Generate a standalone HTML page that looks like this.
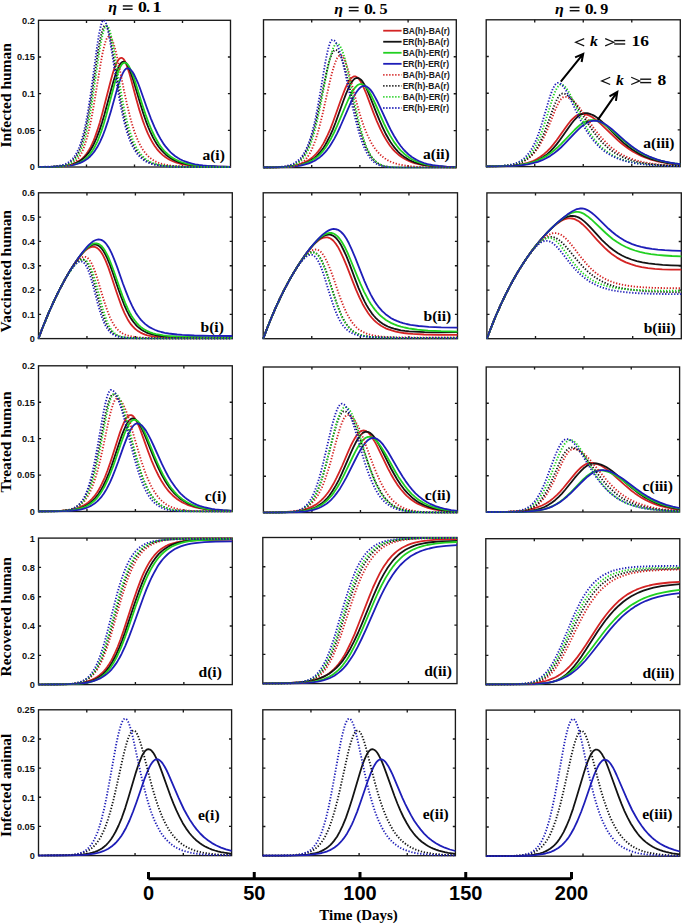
<!DOCTYPE html><html><head><meta charset="utf-8"><style>html,body{margin:0;padding:0;background:#fff;width:685px;height:924px;overflow:hidden}svg{display:block}</style></head><body><svg width="685" height="924" viewBox="0 0 685 924"><defs><clipPath id="c11"><rect x="37.50" y="19.80" width="194.00" height="148.20"/></clipPath><clipPath id="c12"><rect x="262.50" y="19.30" width="194.80" height="149.30"/></clipPath><clipPath id="c13"><rect x="485.20" y="19.30" width="196.10" height="148.30"/></clipPath><clipPath id="c21"><rect x="37.50" y="192.30" width="195.80" height="147.30"/></clipPath><clipPath id="c22"><rect x="262.20" y="192.30" width="196.30" height="147.40"/></clipPath><clipPath id="c23"><rect x="485.90" y="192.40" width="196.40" height="147.30"/></clipPath><clipPath id="c31"><rect x="37.50" y="365.30" width="195.80" height="147.20"/></clipPath><clipPath id="c32"><rect x="262.40" y="366.50" width="196.10" height="147.10"/></clipPath><clipPath id="c33"><rect x="485.20" y="366.50" width="195.40" height="146.50"/></clipPath><clipPath id="c41"><rect x="37.50" y="537.60" width="195.80" height="148.00"/></clipPath><clipPath id="c42"><rect x="261.80" y="537.00" width="196.20" height="147.60"/></clipPath><clipPath id="c43"><rect x="484.80" y="538.20" width="196.00" height="147.30"/></clipPath><clipPath id="c51"><rect x="37.50" y="709.30" width="195.10" height="147.30"/></clipPath><clipPath id="c52"><rect x="261.80" y="709.30" width="194.60" height="147.40"/></clipPath><clipPath id="c53"><rect x="485.20" y="709.60" width="195.60" height="147.60"/></clipPath></defs><rect x="38.50" y="20.30" width="192.00" height="146.70" fill="none" stroke="#1a1a1a" stroke-width="1.35"/><path d="M86.50,167.00v-2.60M86.50,20.30v2.60M134.50,167.00v-2.60M134.50,20.30v2.60M182.50,167.00v-2.60M182.50,20.30v2.60M38.50,130.32h2.60M230.50,130.32h-2.60M38.50,93.65h2.60M230.50,93.65h-2.60M38.50,56.98h2.60M230.50,56.98h-2.60" stroke="#1a1a1a" stroke-width="1.35" fill="none"/><g clip-path="url(#c11)"><path d="M38.5,167.0L51,166.8L59.1,166.4L65.4,165.8L68.3,165.3L70.7,164.7L73.1,164.0L75.2,163.1L77.4,162.0L79.3,160.8L81.2,159.4L82.9,157.9L84.6,156.1L86.3,154.0L87.7,152.0L89.1,149.7L90.6,147.1L92,144.2L93.5,140.9L94.9,137.4L97.5,129.9L99.9,122.2L102.3,113.5L109.1,87.0L111.2,78.9L113.1,72.3L114.8,67.3L116.5,63.2L117.5,61.3L118.2,60.2L119.1,59.0L119.9,58.4L120.6,58.0L121.3,57.8L122,57.9L122.7,58.4L123.5,59.0L124.2,60.0L124.9,61.2L125.9,63.2L127.5,67.6L129,72.1L130.4,77.1L136.4,99.5L139.5,110.4L142.9,120.9L144.6,125.5L146.3,129.8L147.9,133.7L149.6,137.2L151.3,140.4L153,143.3L154.7,145.9L156.6,148.6L158.5,150.9L160.4,152.9L162.8,155.1L165.2,157.0L167.9,158.7L170.5,160.2L173.4,161.5L176.5,162.6L179.6,163.5L183.2,164.3L186.8,164.9L190.9,165.5L195.5,165.9L200.5,166.3L212.7,166.7L230.5,166.9" fill="none" stroke="#d42424" stroke-width="1.80" stroke-linejoin="round"/><path d="M38.5,166.9L51,166.8L59.4,166.4L63,166.0L66.1,165.6L68.7,165.2L71.4,164.6L73.8,163.8L76.2,162.9L78.3,161.9L80.5,160.6L82.4,159.2L84.3,157.6L86,155.9L87.7,153.9L89.4,151.7L90.8,149.5L92.3,147.0L93.7,144.3L95.1,141.3L96.6,138.0L99.5,130.4L101.9,123.1L104.3,115.0L111.5,88.3L113.4,81.5L115.3,75.2L117,70.5L118.7,66.7L119.6,64.9L120.3,63.9L121.3,62.8L122,62.2L122.7,61.8L123.5,61.7L124.2,61.8L124.9,62.1L125.6,62.7L126.6,63.8L127.3,64.9L128.3,66.6L130.2,71.1L131.6,75.1L133.3,80.2L140.3,103.8L143.4,113.7L146.7,123.2L148.4,127.5L150.1,131.4L153.2,137.9L154.9,140.9L156.6,143.7L158.3,146.2L160.2,148.7L161.9,150.7L163.8,152.7L165.9,154.7L168.3,156.6L171,158.4L173.6,159.9L176.5,161.2L179.4,162.3L182.5,163.2L186.1,164.1L189.7,164.8L193.8,165.3L198.1,165.8L202.9,166.2L214.4,166.6L230.5,166.9" fill="none" stroke="#141414" stroke-width="1.80" stroke-linejoin="round"/><path d="M38.5,167.0L51.7,166.8L60.6,166.5L64.2,166.2L67.5,165.8L70.4,165.4L73.1,164.8L75.7,164.1L78.1,163.2L80.3,162.3L82.4,161.0L84.3,159.7L86.3,158.2L87.9,156.5L89.6,154.6L91.3,152.4L92.7,150.3L94.2,147.8L95.6,145.1L97.1,142.1L98.5,138.8L101.4,131.1L103.8,123.7L106.2,115.4L115.1,81.8L116.7,76.2L118.4,71.3L120.1,67.4L121.5,64.9L122.5,63.7L123.2,63.1L123.9,62.8L124.7,62.7L125.4,62.8L126.3,63.2L127.1,63.8L128,64.9L129,66.3L129.9,68.1L131.9,72.3L133.5,76.8L135.2,81.8L142.4,104.9L145.5,114.4L148.9,123.5L150.6,127.7L152.3,131.5L155.4,137.8L157.1,140.8L158.7,143.5L160.4,146.0L162.3,148.5L164,150.5L165.9,152.5L168.1,154.5L170.5,156.4L172.9,158.0L175.5,159.5L178.4,160.9L181.3,162.0L184.4,163.0L187.8,163.9L191.4,164.6L195.2,165.2L199.5,165.7L204.1,166.1L215.1,166.6L230.5,166.9" fill="none" stroke="#22d022" stroke-width="1.80" stroke-linejoin="round"/><path d="M38.5,166.9L51.9,166.8L61.1,166.4L68.3,165.7L71.4,165.3L74.3,164.7L76.9,164.0L79.5,163.1L81.9,162.1L84.1,161.0L86.3,159.6L88.2,158.2L90.1,156.5L91.8,154.7L93.2,153.0L94.7,151.1L97.3,147.1L99.9,142.1L102.6,136.2L105.2,129.3L108.1,120.6L111,111.0L117.2,88.8L118.9,83.3L120.6,78.4L122.5,73.8L123.5,71.9L124.2,70.8L125.1,69.6L125.9,68.9L126.8,68.4L127.5,68.3L128.5,68.4L129.5,68.8L130.4,69.5L131.6,70.8L132.6,72.0L133.8,74.0L135.9,78.3L137.9,82.8L139.8,87.8L147.2,108.7L150.8,118.3L154.4,126.9L157.8,134.0L160.9,139.6L164,144.4L165.7,146.7L167.4,148.7L169.1,150.6L170.7,152.3L172.9,154.3L175.3,156.2L177.7,157.8L180.1,159.2L182.7,160.5L185.6,161.6L188.7,162.7L191.9,163.5L195.2,164.3L198.8,164.9L202.9,165.4L207.2,165.8L217.3,166.4L230.5,166.8" fill="none" stroke="#1e1eb8" stroke-width="1.80" stroke-linejoin="round"/><path d="M38.5,167.0L51.7,166.9L58.9,166.7L61.8,166.5L64.4,166.2L66.6,165.8L68.5,165.3L70.4,164.7L72.3,163.8L74,162.7L75.5,161.6L76.9,160.1L78.3,158.4L79.8,156.3L81,154.2L82.2,151.8L83.4,149.0L85.5,142.9L87.7,135.3L89.9,126.0L91.8,116.5L93.7,105.8L100.9,62.2L102.3,54.5L103.8,47.9L105.2,42.5L106.4,39.3L107.1,37.9L107.9,37.0L108.6,36.5L109.1,36.4L109.8,36.6L110.5,37.2L111.2,38.1L111.9,39.4L112.7,41.0L113.6,43.7L115.3,49.5L116.7,55.4L118.2,61.9L124.2,91.4L127.1,104.7L130.2,117.4L131.6,122.6L133.3,128.1L134.7,132.4L136.4,136.8L138.1,140.8L139.8,144.3L141.5,147.4L143.1,150.1L145.1,152.7L147,155.0L149.1,157.1L151.3,158.9L153.7,160.5L156.3,161.9L159,163.0L162.1,164.0L165.5,164.8L169.3,165.5L172.9,165.9L177.2,166.3L187.8,166.7L202.7,166.9L230.5,167.0" fill="none" stroke="#d42424" stroke-width="1.85" stroke-dasharray="1.3 1.7"/><path d="M38.5,167.0L50,166.9L57,166.5L59.9,166.2L62.3,165.8L64.4,165.3L66.3,164.7L68.3,163.9L70.2,162.7L71.9,161.5L73.3,160.1L74.7,158.4L76.2,156.4L77.4,154.4L78.6,152.0L79.8,149.3L81,146.2L83.1,139.3L85.3,130.8L87.5,120.4L89.1,111.1L91.1,99.1L98,51.6L99.5,43.0L100.7,36.9L101.9,31.9L103.1,28.1L103.8,26.6L104.3,25.9L105,25.3L105.5,25.2L105.9,25.4L106.7,26.1L107.1,26.9L107.9,28.7L109.1,32.7L110.3,37.9L112.4,49.7L117.7,82.6L120.3,97.9L121.8,105.5L123.2,112.4L124.7,118.8L126.1,124.5L127.5,129.6L129.2,134.9L130.9,139.5L132.6,143.4L134.3,146.9L136.2,150.2L138.1,153.1L140,155.4L142.2,157.6L144.3,159.4L146.7,161.0L149.4,162.4L152,163.4L155.1,164.4L158.5,165.1L162.3,165.7L166.2,166.1L170.5,166.4L181.5,166.8L197.4,167.0L230.5,167.0" fill="none" stroke="#141414" stroke-width="1.85" stroke-dasharray="1.3 1.7"/><path d="M38.5,167.0L50.7,166.9L57.9,166.6L60.8,166.3L63.2,165.9L65.4,165.5L67.5,164.8L69.5,164.0L71.4,163.0L73.1,161.8L74.5,160.5L75.9,158.9L77.4,156.9L78.8,154.5L80,152.2L81.2,149.5L82.2,147.0L84.1,141.2L86,134.0L87.7,126.5L89.6,116.6L91.8,103.8L93.7,91.0L98.5,57.5L99.9,48.3L101.1,41.4L102.6,34.6L103.3,31.8L104,29.5L104.7,27.7L105.5,26.5L106.2,25.8L106.7,25.7L107.1,25.8L107.9,26.5L108.3,27.2L109.1,28.8L110.3,32.4L111.7,38.4L112.9,44.4L114.1,51.1L119.4,83.2L122,98.2L124.9,112.4L126.3,118.6L127.8,124.3L129.2,129.3L130.9,134.6L132.6,139.2L134.3,143.2L135.9,146.6L137.9,150.0L139.8,152.8L141.7,155.2L143.9,157.4L146,159.2L148.4,160.9L150.8,162.2L153.5,163.3L156.6,164.3L159.9,165.0L163.8,165.7L167.4,166.1L171.7,166.4L182.7,166.8L198.3,167.0L230.5,167.0" fill="none" stroke="#22d022" stroke-width="1.85" stroke-dasharray="1.3 1.7"/><path d="M38.5,166.9L49.1,166.7L52.9,166.5L56,166.2L58.9,165.8L61.3,165.3L63.5,164.7L65.6,163.9L67.5,163.0L69.5,161.7L71.1,160.3L72.8,158.6L74.3,156.8L75.7,154.6L77.1,152.0L78.3,149.5L79.5,146.6L80.5,143.9L82.4,137.7L84.3,130.1L86,122.2L87.9,111.7L90.1,98.0L92,84.3L96.6,50.0L98.7,35.8L100.2,28.4L101.4,23.9L102.1,22.0L102.6,21.1L103.3,20.4L103.8,20.3L104.3,20.4L105,21.2L105.5,22.1L106.2,23.8L107.4,27.9L108.6,33.2L109.8,39.5L111,46.6L116.3,80.6L118.9,96.4L120.3,104.2L121.8,111.4L124.4,122.8L125.9,128.2L127.5,133.7L129.2,138.6L130.9,142.7L132.6,146.3L134.5,149.8L136.4,152.8L138.3,155.2L140.5,157.5L142.7,159.4L145.1,161.0L147.5,162.3L150.1,163.4L153.2,164.4L156.6,165.1L160.4,165.8L164.3,166.2L168.6,166.5L179.6,166.8L195.7,167.0L230.5,167.0" fill="none" stroke="#1e1eb8" stroke-width="1.85" stroke-dasharray="1.3 1.7"/></g><text x="34.8" y="170.40" text-anchor="end" font-family="Liberation Sans, sans-serif" font-weight="bold" font-size="9.2" fill="#111">0</text><text x="34.8" y="133.72" text-anchor="end" font-family="Liberation Sans, sans-serif" font-weight="bold" font-size="9.2" fill="#111">0.05</text><text x="34.8" y="97.05" text-anchor="end" font-family="Liberation Sans, sans-serif" font-weight="bold" font-size="9.2" fill="#111">0.1</text><text x="34.8" y="60.38" text-anchor="end" font-family="Liberation Sans, sans-serif" font-weight="bold" font-size="9.2" fill="#111">0.15</text><text x="34.8" y="23.70" text-anchor="end" font-family="Liberation Sans, sans-serif" font-weight="bold" font-size="9.2" fill="#111">0.2</text><rect x="263.50" y="19.80" width="192.80" height="147.80" fill="none" stroke="#1a1a1a" stroke-width="1.35"/><path d="M311.70,167.60v-2.60M311.70,19.80v2.60M359.90,167.60v-2.60M359.90,19.80v2.60M408.10,167.60v-2.60M408.10,19.80v2.60M263.50,130.65h2.60M456.30,130.65h-2.60M263.50,93.70h2.60M456.30,93.70h-2.60M263.50,56.75h2.60M456.30,56.75h-2.60" stroke="#1a1a1a" stroke-width="1.35" fill="none"/><g clip-path="url(#c12)"><path d="M263.5,167.5L275.3,167.3L284,166.8L291,166.1L293.9,165.6L296.8,165.0L299.4,164.3L302.1,163.4L304.5,162.4L306.6,161.3L308.8,160.0L310.7,158.7L312.7,157.2L314.6,155.4L316.3,153.6L318,151.6L319.7,149.4L321.3,146.9L323,144.1L324.5,141.5L327.6,135.2L330.3,129.1L333.1,121.7L341.1,99.3L343.3,93.5L345.4,88.1L347.4,84.0L349.3,80.7L350.3,79.3L351.2,78.2L352.2,77.4L353.2,76.8L354.1,76.4L354.8,76.4L355.6,76.5L356.5,76.9L357.5,77.5L358.5,78.5L359.4,79.7L360.4,81.1L362.6,85.1L364.2,88.8L366.2,93.5L373.4,112.6L376.8,121.1L380.4,129.2L383.8,135.8L386.9,141.1L390,145.7L391.7,147.8L393.4,149.8L395.1,151.6L397,153.4L399.2,155.2L401.6,157.0L404,158.5L406.7,160.0L409.3,161.2L412.2,162.3L415.3,163.3L418.5,164.1L421.8,164.8L425.5,165.4L429.3,165.9L433.6,166.3L443.5,167.0L456.3,167.3" fill="none" stroke="#d42424" stroke-width="1.80" stroke-linejoin="round"/><path d="M263.5,167.5L276,167.3L285.2,166.9L292.4,166.2L295.6,165.8L298.4,165.2L301.1,164.6L303.7,163.8L306.2,162.8L308.6,161.7L310.7,160.5L312.9,159.1L314.8,157.6L316.8,155.9L318.4,154.2L320.1,152.2L321.8,150.1L323.5,147.7L325.2,145.0L326.9,142.0L330,135.8L332.7,129.8L335.6,122.5L343.5,100.5L345.9,94.1L347.9,89.5L349.8,85.4L351.7,82.1L352.7,80.8L353.6,79.7L354.6,78.8L355.6,78.3L356.5,78.0L357.2,77.9L358,78.0L358.9,78.3L359.9,78.9L360.9,79.7L362.6,81.7L364.5,84.7L366.4,88.4L368.3,92.7L370.7,98.5L376.5,113.1L379.4,120.2L382.6,127.3L385.4,133.2L388.8,139.3L390.5,142.0L392.4,144.8L394.4,147.4L396.3,149.7L398.2,151.8L400.1,153.6L402.3,155.4L404.5,157.1L406.9,158.6L409.3,160.0L412,161.2L414.6,162.3L417.5,163.2L420.6,164.1L423.8,164.8L427.4,165.4L431,165.9L435.1,166.3L444.5,167.0L456.3,167.3" fill="none" stroke="#141414" stroke-width="1.80" stroke-linejoin="round"/><path d="M263.5,167.5L276,167.3L285.2,166.9L292.7,166.3L295.8,165.8L298.7,165.3L301.6,164.7L304.2,163.9L306.6,163.0L309,162.0L311.2,160.9L313.4,159.6L315.6,158.1L317.5,156.6L319.4,154.8L321.1,153.1L322.8,151.1L324.5,149.0L326.2,146.6L327.8,144.1L331.2,138.2L334.1,132.5L337,126.2L345.7,105.5L348.1,100.0L350.3,95.4L352.4,91.5L354.6,88.2L355.8,86.8L356.8,85.8L357.7,85.1L358.7,84.5L359.7,84.2L360.6,84.1L361.6,84.2L362.6,84.5L363.5,85.0L364.5,85.7L365.4,86.6L366.4,87.6L368.6,90.7L370.5,94.0L372.7,98.3L375.1,103.5L381.1,117.2L384,123.6L387.1,130.0L390,135.4L393.4,140.9L395.1,143.4L397,146.0L398.7,148.1L400.6,150.3L402.6,152.2L404.5,154.0L406.7,155.8L408.8,157.3L411,158.7L413.4,160.0L415.8,161.1L418.5,162.2L421.1,163.1L424,163.9L427.1,164.6L430.3,165.2L437.3,166.1L445.7,166.8L456.3,167.2" fill="none" stroke="#22d022" stroke-width="1.80" stroke-linejoin="round"/><path d="M263.5,167.5L277,167.4L286.6,167.0L294.3,166.4L300.6,165.5L303.5,164.9L306.2,164.2L308.8,163.4L311.2,162.4L313.6,161.3L315.8,160.1L318,158.6L319.9,157.2L321.8,155.5L323.5,153.9L325.4,151.8L327.1,149.8L329.1,147.2L330.7,144.7L334.1,139.1L337,133.6L340.1,127.0L348.8,107.1L351.2,101.7L353.6,96.9L355.8,93.1L358,90.0L359.2,88.6L360.1,87.7L361.3,86.8L362.3,86.3L363.3,86.1L364.2,86.0L365.2,86.1L366.2,86.4L367.1,86.9L368.3,87.7L369.3,88.6L370.5,89.9L372.7,92.9L374.8,96.6L377,100.7L379.7,106.3L388.3,125.0L391.2,130.8L394.1,136.0L397.5,141.5L400.9,146.2L402.6,148.3L404.5,150.5L406.2,152.2L408.1,154.0L410,155.6L412.2,157.2L414.4,158.6L416.5,159.8L418.9,161.0L421.4,162.0L424,163.0L426.7,163.8L429.5,164.5L432.4,165.1L438.9,166.0L446.7,166.7L456.3,167.2" fill="none" stroke="#1e1eb8" stroke-width="1.80" stroke-linejoin="round"/><path d="M263.5,167.6L277,167.5L284.5,167.3L290.3,166.8L292.4,166.5L294.6,166.0L296.8,165.4L298.7,164.6L300.4,163.7L302.1,162.6L303.7,161.3L305.2,159.9L306.6,158.2L307.8,156.5L309.3,154.3L310.5,152.1L311.9,149.1L313.1,146.3L315.6,139.8L318,132.1L320.1,124.0L322.3,115.2L330.5,78.8L332.2,72.2L333.9,66.4L335.6,61.6L336.5,59.4L337.2,58.1L338.2,56.7L338.9,56.0L339.7,55.5L340.4,55.3L341.1,55.4L341.8,55.8L342.5,56.5L343.3,57.5L344,58.8L345,60.8L346.6,65.4L348.1,70.0L349.5,75.2L355.8,99.5L358.9,110.9L360.6,116.6L362.3,121.8L364,126.6L365.7,131.0L367.4,134.9L369.1,138.5L370.7,141.8L372.4,144.7L374.1,147.3L376,150.0L378,152.3L380.1,154.5L382.6,156.7L385,158.5L387.6,160.1L390.3,161.5L393.2,162.7L396.3,163.7L399.7,164.6L403.5,165.4L407.4,166.0L411.7,166.4L416.5,166.8L422.1,167.1L435.6,167.4L456.3,167.6" fill="none" stroke="#d42424" stroke-width="1.85" stroke-dasharray="1.3 1.7"/><path d="M263.5,167.6L274.6,167.4L281.6,167.1L284.5,166.8L286.9,166.5L289,166.0L291.2,165.4L293.4,164.6L295.3,163.7L297,162.7L298.7,161.4L300.4,159.8L301.8,158.2L303.3,156.2L304.5,154.4L305.9,151.8L307.1,149.4L308.3,146.6L309.5,143.6L311.9,136.5L314.1,128.9L316,121.3L318.2,111.7L326.2,73.7L327.8,66.6L329.5,60.4L331.2,55.5L331.9,53.8L332.7,52.4L333.4,51.3L334.1,50.6L334.8,50.1L335.6,50.0L336.5,50.2L337.5,50.9L338.5,51.9L339.4,53.4L340.4,55.3L341.6,58.1L342.5,60.8L343.8,64.5L345.7,71.3L347.6,79.0L354.4,108.2L357.2,120.0L360.1,130.6L361.6,135.4L363,139.7L364.2,143.0L365.7,146.6L366.9,149.3L368.3,152.1L369.8,154.6L371.2,156.8L372.7,158.7L374.4,160.5L376,162.0L377.7,163.2L379.4,164.2L381.3,165.1L383.5,165.8L385.7,166.4L388.1,166.8L391,167.1L396.5,167.4L404.2,167.6L456.3,167.6" fill="none" stroke="#141414" stroke-width="1.85" stroke-dasharray="1.3 1.7"/><path d="M263.5,167.6L275.3,167.5L282.8,167.1L285.7,166.9L288.3,166.5L290.5,166.1L292.7,165.5L294.8,164.7L296.8,163.7L298.4,162.7L300.1,161.4L301.8,159.8L303.3,158.1L304.7,156.1L305.9,154.2L307.4,151.6L308.6,149.1L309.8,146.3L311,143.1L313.4,135.7L315.8,126.8L317.7,118.7L319.9,108.5L325.9,77.4L327.8,67.9L329.5,60.4L331,54.8L332.7,49.5L333.4,47.7L334.1,46.2L334.8,45.0L335.6,44.2L336.3,43.7L337,43.6L337.7,43.7L338.7,44.4L339.7,45.5L340.6,47.1L341.6,49.1L342.5,51.5L343.5,54.4L344.7,58.4L346.4,64.9L348.3,73.2L355.1,105.1L358,118.1L360.9,129.6L363.5,138.6L364.7,142.1L366.2,146.0L367.4,148.9L368.8,151.9L370.3,154.6L371.7,156.8L373.2,158.8L374.6,160.4L376,161.8L377.7,163.1L379.4,164.1L381.3,165.1L383.5,165.8L385.7,166.4L388.1,166.8L391,167.1L396.3,167.4L404,167.6L456.3,167.6" fill="none" stroke="#22d022" stroke-width="1.85" stroke-dasharray="1.3 1.7"/><path d="M263.5,167.5L273.9,167.3L281.1,166.8L284,166.4L286.6,165.9L289,165.3L291.2,164.6L293.4,163.7L295.3,162.6L297.2,161.3L298.9,159.8L300.6,158.1L302.1,156.3L303.5,154.2L305,151.7L307.1,147.2L309.3,141.7L311.5,134.8L313.4,127.6L315.6,118.0L317.7,107.0L319.9,94.8L324.7,66.0L325.9,59.3L327.1,53.3L328.6,47.3L329.8,43.5L330.5,41.8L331.2,40.6L331.9,40.0L332.4,39.8L333.4,40.0L334.4,40.6L335.3,41.7L336.5,43.6L337.5,45.6L338.7,48.6L339.7,51.4L340.9,55.3L342.8,62.6L344.7,70.6L351.9,104.0L354.8,116.6L358,128.9L359.4,133.9L360.9,138.4L362.1,141.9L363.5,145.7L364.7,148.5L366.2,151.6L367.6,154.2L369.1,156.5L370.5,158.5L372.2,160.4L373.9,162.0L375.6,163.2L377.3,164.2L379.2,165.2L381.1,165.8L383.3,166.4L385.7,166.8L388.6,167.2L393.9,167.5L401.4,167.6L456.3,167.6" fill="none" stroke="#1e1eb8" stroke-width="1.85" stroke-dasharray="1.3 1.7"/></g><rect x="486.20" y="19.80" width="194.10" height="146.80" fill="none" stroke="#1a1a1a" stroke-width="1.35"/><path d="M534.73,166.60v-2.60M534.73,19.80v2.60M583.25,166.60v-2.60M583.25,19.80v2.60M631.77,166.60v-2.60M631.77,19.80v2.60M486.20,129.90h2.60M680.30,129.90h-2.60M486.20,93.20h2.60M680.30,93.20h-2.60M486.20,56.50h2.60M680.30,56.50h-2.60" stroke="#1a1a1a" stroke-width="1.35" fill="none"/><g clip-path="url(#c13)"><path d="M486.2,166.5L497.1,166.3L505.6,166.0L512.6,165.6L518.5,164.9L523.8,163.9L528.4,162.7L532.8,161.1L535,160.1L536.9,159.1L540.5,156.8L543.9,154.2L547.3,151.2L550.5,147.8L553.4,144.4L556.6,140.3L565.3,127.9L568,124.2L570.4,121.2L572.6,118.8L575,116.6L576.2,115.7L577.4,115.0L578.6,114.4L579.6,114.1L580.8,113.9L581.8,113.8L583.2,113.9L584.9,114.2L586.4,114.5L588.1,115.1L589.6,115.7L591.3,116.6L594.7,118.9L597.6,121.1L600.7,123.9L614.5,137.2L618.2,140.6L621.6,143.5L625.5,146.5L629.3,149.3L633.2,151.8L637.4,154.0L641.7,156.1L646.3,158.0L650.9,159.6L656,161.0L661.4,162.2L667.2,163.2L673.5,164.1L680.3,164.8" fill="none" stroke="#d42424" stroke-width="1.80" stroke-linejoin="round"/><path d="M486.2,166.5L498.3,166.4L507.3,166.1L514.6,165.6L520.7,165.0L526.2,164.0L531.1,162.8L535.5,161.3L539.6,159.3L543.2,157.1L546.9,154.4L550.3,151.4L553.6,147.8L556.6,144.4L559.7,140.3L568.9,127.2L571.6,123.5L574,120.5L576.2,118.1L578.6,115.9L579.9,115.1L581.1,114.3L582.3,113.8L583.2,113.5L584.5,113.2L585.4,113.2L586.9,113.2L588.3,113.5L589.8,113.8L591.5,114.5L593,115.1L594.7,116.1L597.8,118.2L600.5,120.4L603.6,123.2L617.2,136.8L620.6,140.1L624,143.1L627.9,146.2L631.5,148.9L635.2,151.3L639.1,153.6L643.4,155.8L647.8,157.6L652.4,159.3L657.3,160.7L662.3,161.9L667.9,163.0L673.7,163.9L680.3,164.6" fill="none" stroke="#141414" stroke-width="1.80" stroke-linejoin="round"/><path d="M486.2,166.5L497.4,166.3L506.1,166.0L513.4,165.6L519.4,165.0L525,164.1L530.1,163.0L535,161.5L539.3,159.8L543.2,157.9L547.1,155.6L550.7,153.1L554.6,150.0L557.8,147.1L561.2,143.8L574.5,130.0L577.7,127.0L580.3,124.8L583.2,122.8L586.2,121.4L587.6,120.8L589.1,120.5L590.5,120.2L591.7,120.1L593.2,120.2L594.7,120.4L596.1,120.7L597.8,121.2L601,122.5L604.4,124.5L607,126.4L610.2,128.9L623.3,140.3L626.7,143.1L629.8,145.6L633.5,148.2L636.9,150.5L640.5,152.7L644.1,154.6L648,156.4L651.9,157.9L656,159.4L660.4,160.6L664.8,161.7L669.6,162.7L674.7,163.5L680.3,164.2" fill="none" stroke="#22d022" stroke-width="1.80" stroke-linejoin="round"/><path d="M486.2,166.5L498.6,166.4L507.8,166.1L515.3,165.7L521.9,165.1L527.7,164.3L533,163.2L537.9,161.8L542.2,160.2L546.1,158.3L550,156.1L553.6,153.6L557.5,150.5L560.9,147.5L564.3,144.2L574.5,133.3L577.7,130.1L580.6,127.4L583.2,125.2L586.2,123.2L588.8,121.9L590.3,121.4L591.5,121.0L593,120.8L594.2,120.7L595.6,120.8L597.1,120.9L598.5,121.3L600,121.7L601.4,122.3L603.1,123.1L606.3,125.0L609,126.9L611.9,129.2L624.7,140.6L631,145.7L634.4,148.2L637.8,150.5L641.2,152.5L644.9,154.5L648.8,156.3L652.6,157.9L656.8,159.4L660.9,160.6L665.3,161.7L669.9,162.6L675,163.5L680.3,164.2" fill="none" stroke="#1e1eb8" stroke-width="1.80" stroke-linejoin="round"/><path d="M486.2,166.5L495.9,166.2L503.4,165.8L509.5,165.2L514.8,164.2L517.3,163.6L519.4,162.9L521.6,162.1L523.6,161.2L525.5,160.2L527.4,159.0L529.1,157.8L530.8,156.3L533.8,153.4L536.7,149.8L539.6,145.4L542.2,140.7L544.2,136.7L546.4,131.9L548.8,126.1L555.1,110.2L557,105.9L558.7,102.6L560.4,99.9L561.9,98.2L562.6,97.6L563.4,97.2L564.1,96.9L564.8,96.8L566,96.9L567.2,97.2L568.4,97.6L569.7,98.2L570.9,98.9L572.1,99.8L574.8,102.3L577.2,105.0L579.9,108.3L583,112.7L590.3,123.2L593.9,128.3L597.8,133.4L601.7,138.0L606.1,142.6L610.4,146.7L612.6,148.4L615,150.3L619.6,153.3L622.3,154.8L625,156.2L627.9,157.5L630.8,158.6L633.7,159.7L636.9,160.6L640.3,161.5L643.7,162.3L651.2,163.6L659.4,164.6L668.9,165.3L680.3,165.9" fill="none" stroke="#d42424" stroke-width="1.85" stroke-dasharray="1.3 1.7"/><path d="M486.2,166.5L496.1,166.3L503.7,165.9L509.7,165.3L514.8,164.4L517.3,163.8L519.4,163.1L521.4,162.3L523.3,161.4L525.3,160.3L527,159.1L528.7,157.8L530.1,156.5L531.6,155.0L533,153.4L535.7,149.8L538.4,145.4L541,140.2L543.2,135.3L545.6,129.2L553.9,106.5L555.6,102.4L557,99.3L558.5,96.8L560,94.9L560.7,94.3L561.4,93.8L562.1,93.6L562.6,93.5L563.6,93.5L564.8,93.8L565.8,94.2L567,94.8L569.2,96.4L571.6,98.9L574,101.9L576.9,106.1L586.9,121.9L590.8,127.9L594.2,132.7L597.3,136.8L601.7,141.8L603.9,144.0L606.1,146.1L608.2,148.0L610.7,149.9L613.1,151.7L615.5,153.2L618.2,154.8L621.1,156.3L624,157.6L626.9,158.8L630.1,159.9L633.5,160.9L636.9,161.8L640.5,162.6L648.3,163.8L657.3,164.8L667.7,165.5L680.3,166.0" fill="none" stroke="#141414" stroke-width="1.85" stroke-dasharray="1.3 1.7"/><path d="M486.2,166.5L495.9,166.2L503.2,165.8L509.2,165.1L511.7,164.6L514.1,164.1L516.3,163.4L518.5,162.6L520.4,161.8L522.4,160.7L524.3,159.5L526,158.2L527.7,156.7L529.1,155.2L530.6,153.5L532.1,151.6L534.7,147.4L537.4,142.4L539.8,136.9L541.8,131.9L543.7,126.4L546.1,119.0L552,100.3L553.6,95.4L555.3,91.1L556.8,88.2L558.3,86.1L559,85.3L559.7,84.8L560.4,84.5L560.9,84.5L561.7,84.6L562.6,84.9L563.4,85.3L564.3,86.0L565.3,87.0L566.3,88.2L568.2,91.1L569.9,94.1L571.8,97.9L579.4,113.8L583.2,121.5L587.4,128.9L589.3,132.0L591.5,135.3L593.4,138.0L595.4,140.5L597.3,142.7L599.5,145.1L601.7,147.2L603.9,149.2L606.1,150.9L608.5,152.7L611.2,154.4L614.1,156.0L617.2,157.5L620.4,158.9L623.8,160.1L627.2,161.1L631,162.1L634.9,162.9L639.1,163.6L643.7,164.2L653.6,165.2L665.5,165.8L680.3,166.2" fill="none" stroke="#22d022" stroke-width="1.85" stroke-dasharray="1.3 1.7"/><path d="M486.2,166.5L495.7,166.3L502.7,165.8L508.3,165.2L510.7,164.7L512.9,164.2L515.1,163.5L517.3,162.7L519.2,161.7L520.9,160.7L522.6,159.6L524.3,158.2L525.7,156.8L527.2,155.2L528.7,153.4L529.9,151.7L531.3,149.5L532.5,147.4L535,142.5L537.4,136.7L539.1,132.1L541,126.3L543.2,119.3L549,99.6L550.7,94.4L552.4,89.9L553.9,86.8L554.6,85.5L555.3,84.5L556.1,83.7L556.8,83.2L557.5,82.9L558,82.9L558.7,83.0L559.7,83.3L560.7,83.8L561.7,84.6L562.6,85.6L563.6,86.8L565.5,89.7L567.2,92.7L569.2,96.5L577.2,113.4L581.1,121.2L585.2,128.6L587.1,131.7L589.3,135.0L591.3,137.7L593.4,140.5L595.4,142.7L597.6,145.1L599.7,147.2L601.9,149.1L604.1,150.9L606.5,152.6L609.5,154.5L612.4,156.1L615.5,157.6L618.7,158.9L622.1,160.1L625.7,161.2L629.6,162.1L633.5,162.9L637.6,163.6L642.2,164.2L647.1,164.8L652.4,165.2L664.8,165.9L680.3,166.3" fill="none" stroke="#1e1eb8" stroke-width="1.85" stroke-dasharray="1.3 1.7"/></g><rect x="38.50" y="192.80" width="193.80" height="145.80" fill="none" stroke="#1a1a1a" stroke-width="1.35"/><path d="M86.95,338.60v-2.60M86.95,192.80v2.60M135.40,338.60v-2.60M135.40,192.80v2.60M183.85,338.60v-2.60M183.85,192.80v2.60M38.50,314.30h2.60M232.30,314.30h-2.60M38.50,290.00h2.60M232.30,290.00h-2.60M38.50,265.70h2.60M232.30,265.70h-2.60M38.50,241.40h2.60M232.30,241.40h-2.60M38.50,217.10h2.60M232.30,217.10h-2.60" stroke="#1a1a1a" stroke-width="1.35" fill="none"/><g clip-path="url(#c21)"><path d="M38.5,338.6L41.9,329.6L45.5,320.4L49.2,311.7L53,303.0L56.9,294.9L60.8,287.2L64.7,280.0L68.5,273.3L72.4,267.0L76,261.6L79.7,256.7L82.8,253.0L85.7,250.2L87.2,249.0L88.4,248.2L89.6,247.6L90.8,247.1L92,246.8L93.2,246.7L94.7,246.9L95.9,247.3L97.1,248.0L98.3,248.9L99.5,250.2L100.8,251.7L102,253.5L103.2,255.6L105.6,260.7L108.3,267.4L110.9,275.0L116.5,292.0L119.2,299.8L121.8,306.9L124.5,313.1L126,316.1L127.6,319.2L129.3,322.0L131,324.4L132.7,326.4L134.4,328.2L136.4,329.9L138.3,331.3L140.5,332.6L142.7,333.6L145.1,334.6L147.5,335.3L150.2,335.9L153.3,336.4L156.7,336.8L160.8,337.2L170.3,337.7L183.1,338.0L201.8,338.1L232.3,338.2" fill="none" stroke="#d42424" stroke-width="1.80" stroke-linejoin="round"/><path d="M38.5,338.6L42.1,328.9L45.8,319.8L49.4,311.2L53.3,302.5L57.2,294.4L61,286.7L64.9,279.5L69,272.4L73.1,265.8L77,260.0L80.7,255.1L84,251.1L85.7,249.4L87.2,248.1L88.6,246.9L89.9,246.1L91.1,245.4L92.3,244.9L93.5,244.6L94.7,244.5L96.2,244.7L97.4,245.1L98.6,245.7L99.8,246.6L101,247.8L102.2,249.3L103.4,251.0L104.9,253.5L107.3,258.4L110,264.9L112.6,272.2L118.4,289.3L121.1,296.8L124,304.3L126.9,310.8L128.6,314.2L130.3,317.2L132,319.9L133.7,322.2L135.4,324.3L137.3,326.3L139.3,328.1L141.5,329.7L143.6,331.0L146.1,332.3L148.7,333.3L151.4,334.2L154.3,334.9L157.7,335.5L161.3,336.1L165.4,336.5L174.9,337.1L187.7,337.5L205.4,337.7L232.3,337.8" fill="none" stroke="#141414" stroke-width="1.80" stroke-linejoin="round"/><path d="M38.5,338.6L42.1,328.9L45.8,319.8L49.4,311.2L53.3,302.5L57.2,294.4L61,286.7L65.1,279.1L69.3,272.0L73.4,265.4L77.5,259.3L81.4,254.1L84.8,250.1L86.5,248.4L87.9,247.0L89.4,245.9L90.6,245.0L92,244.2L93.2,243.7L94.5,243.4L95.7,243.3L97.1,243.5L98.3,243.8L99.5,244.5L100.8,245.4L102,246.5L103.2,248.0L104.4,249.7L105.8,252.1L108.3,256.9L110.9,263.3L113.6,270.5L119.7,288.0L122.3,295.4L125.2,302.8L128.1,309.3L129.8,312.6L131.5,315.7L133.2,318.3L135.2,321.0L136.9,323.1L138.8,325.1L140.7,326.9L142.9,328.5L145.1,329.9L147.5,331.2L150.2,332.3L153.1,333.3L156,334.1L159.4,334.7L163.3,335.3L167.4,335.8L177.1,336.5L189.7,336.9L206.9,337.2L232.3,337.3" fill="none" stroke="#22d022" stroke-width="1.80" stroke-linejoin="round"/><path d="M38.5,338.6L42.1,328.9L46,319.2L49.9,310.1L53.8,301.5L57.6,293.4L61.8,285.3L65.9,277.8L70.2,270.3L74.6,263.4L79,257.0L83.1,251.5L87,246.9L88.6,245.2L90.3,243.6L91.8,242.4L93.2,241.3L94.7,240.5L95.9,240.0L97.4,239.6L98.6,239.4L100,239.6L101.2,239.9L102.7,240.6L103.9,241.5L105.1,242.6L106.3,244.0L107.5,245.7L109,248.1L110.2,250.3L111.7,253.3L114.3,259.6L117,266.6L123,283.7L126,291.6L129.1,299.4L132,305.7L133.7,309.0L135.6,312.4L137.3,315.0L139.3,317.7L141.2,320.1L143.2,322.1L145.3,324.1L147.5,325.8L149.9,327.4L152.6,328.8L155.3,330.0L158.2,331.1L161.3,332.0L164.7,332.8L168.6,333.5L172.7,334.0L177.1,334.5L182.2,334.9L194.3,335.5L210,335.8L232.3,336.0" fill="none" stroke="#1e1eb8" stroke-width="1.80" stroke-linejoin="round"/><path d="M38.5,338.6L41.6,330.2L44.8,322.2L47.9,314.6L51.1,307.3L54.5,299.9L57.9,292.9L61.3,286.3L64.7,280.0L67.8,274.6L71,269.5L73.9,265.3L76.3,262.2L78.5,259.9L79.7,258.8L80.7,258.1L81.6,257.5L82.6,257.1L83.6,256.8L84.3,256.8L85.5,256.9L86.7,257.4L87.9,258.3L88.9,259.3L90.1,260.9L91.1,262.5L92,264.3L93.2,267.0L95.2,272.0L97.1,277.8L103.4,298.8L106.1,307.1L108.8,314.4L110,317.3L111.4,320.3L112.6,322.6L114.1,325.0L115.3,326.8L116.7,328.6L118.2,330.1L119.7,331.4L121.1,332.5L122.8,333.5L124.7,334.5L126.7,335.2L128.9,335.9L131.5,336.5L134.2,336.9L137.3,337.3L145.1,337.8L155,338.0L169.3,338.2L232.3,338.3" fill="none" stroke="#d42424" stroke-width="1.85" stroke-dasharray="1.3 1.7"/><path d="M38.5,338.6L41.4,330.8L44.6,322.8L47.5,315.7L50.6,308.4L53.8,301.5L56.9,294.9L60.3,288.1L63.5,282.2L66.6,276.6L69.5,271.8L72.2,267.7L74.6,264.5L76.5,262.3L78.5,260.5L80.2,259.6L81.1,259.3L81.9,259.2L83.1,259.4L84,259.8L85,260.5L86,261.6L87,263.0L87.9,264.7L88.9,266.7L89.9,269.1L91.6,274.0L93.2,279.7L99.1,301.8L101.2,309.6L103.7,317.1L105.8,322.6L106.8,324.6L108,326.9L109.2,328.8L110.4,330.4L111.7,331.8L113.1,333.2L114.6,334.3L116,335.1L117.7,335.9L119.4,336.5L121.3,337.0L123.3,337.4L128.4,337.9L135.2,338.3L143.9,338.4L157.9,338.5L232.3,338.5" fill="none" stroke="#141414" stroke-width="1.85" stroke-dasharray="1.3 1.7"/><path d="M38.5,338.6L41.4,330.8L44.6,322.8L47.7,315.1L50.9,307.9L54,301.0L57.4,294.0L60.8,287.3L63.9,281.5L66.8,276.6L69.8,271.9L72.4,268.1L74.8,265.1L77,262.8L79.2,261.0L80.2,260.4L81.1,260.0L82.1,259.8L82.8,259.7L84,259.8L85,260.2L86,260.8L87,261.6L87.9,262.8L88.9,264.2L89.9,265.9L90.8,267.9L92.8,272.7L94.7,278.7L96.6,285.5L101,302.2L102.9,309.2L104.9,315.5L106.8,320.9L108,323.8L109.2,326.3L110.4,328.4L111.7,330.2L112.9,331.7L114.3,333.1L115.8,334.2L117.2,335.1L118.7,335.8L120.4,336.4L122.1,336.9L124,337.3L128.9,337.8L135.6,338.1L144.1,338.3L157.4,338.4L232.3,338.4" fill="none" stroke="#22d022" stroke-width="1.85" stroke-dasharray="1.3 1.7"/><path d="M38.5,338.6L41.4,330.8L44.3,323.4L47.2,316.3L50.4,309.0L53.5,302.0L56.7,295.4L59.8,289.1L63,283.2L65.9,278.0L68.5,273.6L71.2,269.5L73.4,266.6L75.3,264.4L77.3,262.7L79,261.7L79.9,261.4L80.7,261.3L81.9,261.5L82.8,261.9L83.8,262.7L84.8,263.7L85.7,265.1L86.7,266.8L87.7,268.8L88.6,271.2L90.3,276.0L92,281.7L97.6,302.9L99.8,310.6L102.2,318.1L104.4,323.4L105.4,325.4L106.6,327.6L107.8,329.4L109,331.0L110.2,332.3L111.4,333.4L112.9,334.4L114.3,335.2L115.8,335.9L117.5,336.5L119.4,337.0L121.6,337.4L126.7,337.9L133.7,338.2L142.7,338.4L157,338.4L232.3,338.5" fill="none" stroke="#1e1eb8" stroke-width="1.85" stroke-dasharray="1.3 1.7"/></g><text x="34.8" y="342.00" text-anchor="end" font-family="Liberation Sans, sans-serif" font-weight="bold" font-size="9.2" fill="#111">0</text><text x="34.8" y="317.70" text-anchor="end" font-family="Liberation Sans, sans-serif" font-weight="bold" font-size="9.2" fill="#111">0.1</text><text x="34.8" y="293.40" text-anchor="end" font-family="Liberation Sans, sans-serif" font-weight="bold" font-size="9.2" fill="#111">0.2</text><text x="34.8" y="269.10" text-anchor="end" font-family="Liberation Sans, sans-serif" font-weight="bold" font-size="9.2" fill="#111">0.3</text><text x="34.8" y="244.80" text-anchor="end" font-family="Liberation Sans, sans-serif" font-weight="bold" font-size="9.2" fill="#111">0.4</text><text x="34.8" y="220.50" text-anchor="end" font-family="Liberation Sans, sans-serif" font-weight="bold" font-size="9.2" fill="#111">0.5</text><text x="34.8" y="196.20" text-anchor="end" font-family="Liberation Sans, sans-serif" font-weight="bold" font-size="9.2" fill="#111">0.6</text><rect x="263.20" y="192.80" width="194.30" height="145.90" fill="none" stroke="#1a1a1a" stroke-width="1.35"/><path d="M311.77,338.70v-2.60M311.77,192.80v2.60M360.35,338.70v-2.60M360.35,192.80v2.60M408.93,338.70v-2.60M408.93,192.80v2.60M263.20,314.38h2.60M457.50,314.38h-2.60M263.20,290.07h2.60M457.50,290.07h-2.60M263.20,265.75h2.60M457.50,265.75h-2.60M263.20,241.43h2.60M457.50,241.43h-2.60M263.20,217.12h2.60M457.50,217.12h-2.60" stroke="#1a1a1a" stroke-width="1.35" fill="none"/><g clip-path="url(#c22)"><path d="M263.2,338.7L267.1,328.4L271,318.7L274.9,309.6L279,300.5L283.1,292.0L287.2,284.0L291.6,276.1L296,268.8L300.6,261.6L305.2,255.0L309.6,249.3L313.5,244.9L316.9,241.7L318.6,240.3L320,239.3L321.5,238.5L322.9,237.9L324.4,237.5L325.9,237.3L327.6,237.4L329,237.8L330.5,238.5L331.9,239.5L333.4,240.8L334.8,242.5L336.3,244.4L337.8,246.7L340.4,251.6L343.3,257.8L346.5,265.4L353.1,282.3L356.2,290.1L359.4,297.3L362.5,303.7L364.2,306.8L366.2,310.1L368.1,313.0L370.1,315.7L372,318.0L374.2,320.3L376.4,322.4L378.6,324.1L381,325.8L383.7,327.3L386.3,328.6L389.3,329.7L392.4,330.7L395.8,331.6L399.5,332.3L403.6,333.0L408,333.5L412.8,333.9L424,334.5L438.3,334.8L457.5,334.8" fill="none" stroke="#d42424" stroke-width="1.80" stroke-linejoin="round"/><path d="M263.2,338.7L267.1,328.4L271.2,318.1L275.3,308.5L279.5,299.5L283.6,291.0L288,282.7L292.3,274.9L297,267.2L301.8,259.8L306.4,253.3L311,247.4L315.2,242.8L317.1,240.9L319.1,239.1L320.8,237.8L322.5,236.7L324.2,235.7L325.6,235.2L327.1,234.8L328.5,234.6L330.2,234.7L331.7,235.1L333.1,235.8L334.6,236.8L336.1,238.1L337.5,239.8L339,241.7L340.7,244.4L343.3,249.5L346.3,255.9L349.2,263.2L355.7,280.6L358.6,288.1L361.8,295.5L364.7,301.6L366.4,304.9L368.4,308.2L370.1,310.8L372,313.6L374,316.0L375.9,318.1L378.1,320.2L380.3,322.0L382.7,323.7L385.1,325.1L387.8,326.5L390.7,327.6L393.9,328.7L397.3,329.5L400.9,330.3L404.8,330.9L409.2,331.4L413.8,331.7L424.7,332.2L438.3,332.3L457.5,332.1" fill="none" stroke="#141414" stroke-width="1.80" stroke-linejoin="round"/><path d="M263.2,338.7L267.1,328.4L271.2,318.1L275.3,308.5L279.5,299.5L283.8,290.6L288.2,282.2L292.6,274.5L297.2,266.8L302.1,259.4L306.9,252.6L311.8,246.4L316.1,241.5L318.1,239.5L320,237.7L321.7,236.4L323.4,235.2L325.1,234.2L326.6,233.6L328.3,233.1L329.7,232.9L331.4,233.0L332.9,233.3L334.4,234.0L335.8,234.9L337.3,236.1L338.7,237.7L340.2,239.5L341.9,242.0L344.6,246.7L347.5,252.7L350.6,260.0L357.4,276.7L360.6,284.2L364,291.6L367.2,297.7L369.1,301.1L371,304.2L373,307.1L374.9,309.6L376.9,312.0L379.1,314.3L381.2,316.3L383.4,318.1L385.9,319.9L388.5,321.5L391.4,323.1L394.4,324.4L397.5,325.6L400.9,326.6L404.6,327.5L408.7,328.4L412.8,329.0L417.4,329.6L422.5,330.1L428.1,330.6L441,331.2L457.5,331.6" fill="none" stroke="#22d022" stroke-width="1.80" stroke-linejoin="round"/><path d="M263.2,338.7L267.3,327.8L271.5,317.5L275.8,307.4L280.2,297.9L284.6,289.1L289.2,280.5L293.8,272.4L298.7,264.5L303.8,256.9L309.1,249.6L314.2,243.3L318.8,238.3L321,236.2L322.9,234.4L324.9,232.9L326.8,231.5L328.8,230.4L330.5,229.7L332.2,229.2L333.6,229.0L335.3,229.1L337,229.5L338.7,230.2L340.2,231.2L341.6,232.5L343.1,234.0L344.6,235.9L346.3,238.5L348.9,243.3L351.8,249.6L355,257.2L361.6,273.9L364.5,281.1L367.6,288.2L370.8,294.6L372.5,297.7L374.4,301.0L376.4,303.9L378.3,306.6L380.3,308.9L382.2,311.1L384.2,312.9L386.3,314.8L388.8,316.6L391.2,318.2L393.9,319.6L396.8,320.9L399.9,322.1L403.1,323.1L406.5,324.0L410.4,324.8L414.3,325.4L418.6,326.0L423.5,326.4L428.8,326.8L441.2,327.4L457.5,327.7" fill="none" stroke="#1e1eb8" stroke-width="1.80" stroke-linejoin="round"/><path d="M263.2,338.7L266.6,329.6L270,321.1L273.6,312.4L277.3,304.2L280.9,296.4L284.6,289.1L288.2,282.3L292.1,275.4L295.7,269.4L299.4,263.8L302.8,259.1L305.7,255.6L308.4,253.0L310.8,251.1L312,250.4L313.2,249.9L314.4,249.6L315.4,249.5L316.6,249.6L317.8,249.9L319.1,250.5L320.3,251.4L321.5,252.6L322.7,254.1L323.9,255.8L325.1,257.9L327.6,262.8L330,268.7L332.7,275.9L338.2,292.1L340.9,299.6L343.8,306.9L346.5,312.8L348.2,316.1L349.9,319.0L351.6,321.6L353.3,323.9L355,325.9L356.9,327.8L358.9,329.4L361.1,330.9L363.3,332.1L365.5,333.1L368.1,334.1L370.8,334.8L373.7,335.5L377.1,336.0L380.8,336.5L385.1,336.9L395.1,337.3L408.4,337.6L427.1,337.7L457.5,337.7" fill="none" stroke="#d42424" stroke-width="1.85" stroke-dasharray="1.3 1.7"/><path d="M263.2,338.7L266.4,330.3L269.8,321.7L273.2,313.5L276.6,305.8L280,298.5L283.6,291.0L287.2,284.0L290.9,277.5L294.5,271.3L297.9,266.0L301.1,261.5L303.8,258.2L306.2,255.6L307.4,254.6L308.6,253.7L309.8,253.0L310.8,252.5L311.8,252.3L312.7,252.2L314.2,252.3L315.4,252.8L316.6,253.6L317.8,254.7L319.1,256.1L320.3,257.9L321.5,260.1L322.9,263.1L324.9,267.7L327.1,273.8L334.4,296.4L337.3,305.0L340.2,312.4L341.6,315.7L343.1,318.6L344.3,320.8L345.8,323.2L347.2,325.3L348.7,327.1L350.1,328.6L351.6,330.0L353.3,331.3L355,332.4L356.9,333.4L359.1,334.4L361.6,335.2L364.2,335.8L367.2,336.3L370.3,336.8L378.1,337.4L388.3,337.7L402.6,337.9L457.5,337.7" fill="none" stroke="#141414" stroke-width="1.85" stroke-dasharray="1.3 1.7"/><path d="M263.2,338.7L266.4,330.3L269.8,321.7L273.2,313.5L276.6,305.8L280,298.5L283.6,291.0L287.2,284.0L290.9,277.5L294.3,271.7L297.7,266.3L300.8,261.8L303.5,258.5L305.9,255.9L307.2,254.8L308.4,253.9L309.6,253.2L310.6,252.8L311.5,252.5L312.5,252.4L314,252.6L315.2,253.0L316.4,253.8L317.6,254.9L318.8,256.4L320,258.2L321.2,260.3L322.7,263.3L324.6,267.9L326.8,273.9L334.4,297.3L337.3,305.7L340.2,313.1L341.6,316.3L343.1,319.2L344.3,321.4L345.8,323.7L347,325.4L348.4,327.2L349.9,328.8L351.4,330.1L353.1,331.4L354.8,332.5L356.7,333.6L358.9,334.5L361.3,335.2L363.8,335.8L366.7,336.3L369.8,336.8L377.8,337.4L388.3,337.7L403.3,337.9L424.2,337.9L457.5,337.8" fill="none" stroke="#22d022" stroke-width="1.85" stroke-dasharray="1.3 1.7"/><path d="M263.2,338.7L266.4,330.3L269.8,321.7L272.9,314.1L276.3,306.3L279.7,299.0L283.1,292.0L286.8,285.0L290.2,278.8L293.6,273.0L296.7,268.0L299.6,263.8L302.3,260.5L304.7,257.9L306.9,256.2L307.9,255.6L308.9,255.2L309.8,254.9L310.8,254.8L312,254.9L313.2,255.4L314.4,256.2L315.4,257.2L316.6,258.7L317.6,260.1L318.8,262.3L320,264.9L322,269.7L323.9,275.3L330.7,297.3L333.4,305.4L334.8,309.4L336.3,313.1L337.5,315.9L339,318.9L340.2,321.1L341.6,323.5L343.1,325.6L344.6,327.3L346,328.9L347.5,330.2L349.2,331.5L350.9,332.5L352.8,333.5L355,334.4L357.4,335.1L360.1,335.8L363,336.3L366.4,336.7L374.4,337.3L384.4,337.6L398.7,337.8L457.5,338.0" fill="none" stroke="#1e1eb8" stroke-width="1.85" stroke-dasharray="1.3 1.7"/></g><rect x="486.90" y="192.90" width="194.40" height="145.80" fill="none" stroke="#1a1a1a" stroke-width="1.35"/><path d="M535.50,338.70v-2.60M535.50,192.90v2.60M584.10,338.70v-2.60M584.10,192.90v2.60M632.70,338.70v-2.60M632.70,192.90v2.60M486.90,314.40h2.60M681.30,314.40h-2.60M486.90,290.10h2.60M681.30,290.10h-2.60M486.90,265.80h2.60M681.30,265.80h-2.60M486.90,241.50h2.60M681.30,241.50h-2.60M486.90,217.20h2.60M681.30,217.20h-2.60" stroke="#1a1a1a" stroke-width="1.35" fill="none"/><g clip-path="url(#c23)"><path d="M486.9,338.7L491,327.8L495.4,317.0L499.8,306.9L504.2,297.5L508.8,288.2L513.6,279.2L518.5,270.8L523.4,263.1L528.9,254.9L534.5,247.4L540.4,240.2L546.2,233.7L549.1,230.7L551.8,228.1L554.2,226.0L556.6,224.0L558.8,222.4L561,221.0L563,220.0L564.9,219.2L566.8,218.6L568.5,218.3L570.5,218.3L572.2,218.5L573.9,218.9L575.8,219.7L577.5,220.6L579.5,221.8L582.4,224.2L585.8,227.4L589.2,231.0L597,239.8L600.6,243.7L604.5,247.6L608.2,251.0L612.5,254.6L616.9,257.6L621.3,260.1L625.9,262.4L630.8,264.2L636.1,265.8L641.7,267.1L648,268.1L654.8,268.9L662.3,269.4L671.1,269.6L681.3,269.7" fill="none" stroke="#d42424" stroke-width="1.80" stroke-linejoin="round"/><path d="M486.9,338.7L491.3,327.2L495.6,316.4L500,306.3L504.6,296.5L509.3,287.3L514.1,278.3L519,270.0L524.1,262.0L529.7,253.8L535.3,246.4L541.1,239.3L547.2,232.7L553,226.9L555.7,224.4L558.3,222.2L560.8,220.4L563,219.0L565.1,217.8L567.1,216.9L569,216.3L570.7,216.0L572.7,215.9L574.4,216.1L576.1,216.5L577.8,217.1L579.5,217.9L581.4,219.1L584.3,221.4L587.5,224.3L590.9,227.9L598.2,235.9L601.8,239.8L605.5,243.4L609.1,246.7L613.3,250.0L617.6,253.0L622,255.5L626.6,257.7L631.5,259.5L636.8,261.1L642.4,262.4L648.5,263.4L655.1,264.2L662.6,264.9L671.1,265.3L681.3,265.6" fill="none" stroke="#141414" stroke-width="1.80" stroke-linejoin="round"/><path d="M486.9,338.7L491.3,327.2L495.9,315.8L500.5,305.3L505.1,295.5L510,285.9L514.8,277.0L519.9,268.4L525.1,260.5L530.6,252.5L536.5,244.9L542.3,238.0L548.4,231.4L551.5,228.2L554.9,225.0L558.1,222.1L561.3,219.5L564.2,217.2L566.6,215.5L568.8,214.2L571,213.1L572.7,212.5L574.4,212.1L576.1,211.9L577.8,211.9L579.5,212.1L581.2,212.6L582.9,213.3L584.8,214.4L587.7,216.4L591.1,219.2L594.5,222.3L605.7,233.0L609.4,236.2L613,239.2L617.1,242.1L621.5,244.8L625.9,247.0L630.3,248.9L634.9,250.5L639.7,251.9L645.1,253.1L650.9,254.1L657.2,254.9L664.3,255.5L672.1,256.0L681.3,256.3" fill="none" stroke="#22d022" stroke-width="1.80" stroke-linejoin="round"/><path d="M486.9,338.7L491.5,326.5L496.1,315.2L500.8,304.7L505.6,294.5L510.5,285.0L515.6,275.8L520.9,266.9L526.3,258.7L532.1,250.5L537.9,243.1L544,236.0L550.3,229.4L553.7,226.1L557.1,222.9L560.8,219.8L564.2,217.0L567.3,214.6L570,212.7L572.4,211.2L574.9,210.0L576.8,209.2L578.5,208.8L580.2,208.5L581.9,208.5L583.6,208.7L585.3,209.2L587,209.9L588.7,210.8L591.6,212.8L594.8,215.4L598,218.4L608.6,228.8L612.3,232.0L615.7,234.8L619.6,237.6L623.7,240.1L627.8,242.2L632.2,244.1L636.6,245.6L641.2,246.9L646.3,248.0L651.9,248.9L658,249.6L664.8,250.2L672.3,250.6L681.3,250.9" fill="none" stroke="#1e1eb8" stroke-width="1.80" stroke-linejoin="round"/><path d="M486.9,338.7L490.8,328.4L494.7,318.7L498.6,309.6L502.7,300.5L506.8,292.0L511.2,283.6L515.6,275.8L519.9,268.5L524.8,260.9L529.4,254.3L534,248.3L538.2,243.5L542.1,239.6L543.8,238.1L545.5,236.8L547.2,235.6L548.9,234.7L550.6,233.9L552,233.4L553.7,233.1L555.2,233.1L556.6,233.2L558.1,233.6L559.6,234.1L561,234.8L562.5,235.8L564.2,237.1L566.8,239.6L569.8,242.8L572.7,246.4L580,256.0L583.4,260.2L587,264.5L590.7,268.3L592.8,270.3L595,272.2L597.2,273.9L599.4,275.5L601.6,276.9L604,278.3L606.5,279.6L608.9,280.7L611.6,281.7L614.2,282.6L617.1,283.5L620.3,284.3L626.9,285.6L634.4,286.6L642.9,287.3L652.9,287.8L665.3,288.1L681.3,288.3" fill="none" stroke="#d42424" stroke-width="1.85" stroke-dasharray="1.3 1.7"/><path d="M486.9,338.7L490.5,329.0L494.2,319.9L498.1,310.7L502,302.1L505.9,294.0L510,285.9L514.1,278.3L518.5,270.8L523.1,263.5L527.5,257.0L531.9,251.1L535.7,246.5L539.4,242.7L541.1,241.2L542.5,240.1L544,239.1L545.5,238.3L546.9,237.6L548.4,237.2L549.8,236.9L551.3,236.9L552.5,237.0L554,237.3L555.4,237.8L556.9,238.6L558.3,239.5L559.8,240.6L562.2,242.7L565.1,245.7L568.3,249.4L575.8,258.6L579.5,262.9L583.6,267.4L587.5,271.2L589.7,273.1L592.1,275.1L594.3,276.7L596.7,278.3L599.2,279.8L601.6,281.2L604.3,282.5L606.9,283.7L609.9,284.8L612.8,285.8L615.9,286.8L619.1,287.6L626.1,289.0L634.2,290.1L643.1,291.0L653.4,291.6L665.7,292.0L681.3,292.3" fill="none" stroke="#141414" stroke-width="1.85" stroke-dasharray="1.3 1.7"/><path d="M486.9,338.7L490.3,329.7L493.9,320.5L497.6,311.8L501.5,303.1L505.4,295.0L509.3,287.3L513.4,279.6L517.5,272.4L521.9,265.3L526.5,258.4L530.9,252.3L534.8,247.4L538.2,243.7L541.1,241.1L542.5,240.0L544,239.1L545.5,238.5L546.7,238.1L547.9,237.9L549.1,237.8L550.1,237.9L551.3,238.2L552.5,238.7L553.7,239.3L554.9,240.1L556.2,241.1L558.3,243.2L560.8,245.9L563.7,249.7L570.5,258.9L573.9,263.4L577.8,268.0L581.4,271.8L583.6,273.8L585.8,275.6L588,277.3L590.2,278.8L592.6,280.3L595,281.6L597.5,282.8L600.1,283.9L602.8,284.9L605.7,285.8L608.9,286.6L612,287.3L619.1,288.5L627.4,289.4L636.6,290.0L647.8,290.4L661.9,290.7L681.3,290.8" fill="none" stroke="#22d022" stroke-width="1.85" stroke-dasharray="1.3 1.7"/><path d="M486.9,338.7L490.3,329.7L493.9,320.5L497.6,311.8L501.5,303.1L505.1,295.5L509,287.7L512.9,280.5L517,273.3L521.4,266.1L525.5,259.8L529.7,254.0L533.3,249.5L536.5,246.0L537.9,244.7L539.4,243.5L540.8,242.5L542.1,241.8L543.3,241.3L544.5,241.0L545.7,240.8L546.7,240.8L547.9,240.9L549.1,241.3L550.1,241.6L551.3,242.2L553.7,243.9L556.4,246.4L559.3,249.6L562,252.9L569.5,262.5L573.4,267.2L576.8,270.9L580.2,274.2L582.4,276.1L584.8,278.1L587,279.7L589.4,281.4L591.9,282.8L594.5,284.2L597.2,285.5L599.9,286.6L602.8,287.7L606,288.6L609.1,289.5L612.5,290.3L619.8,291.5L628.3,292.5L637.8,293.2L649.2,293.7L663.1,294.0L681.3,294.2" fill="none" stroke="#1e1eb8" stroke-width="1.85" stroke-dasharray="1.3 1.7"/></g><rect x="38.50" y="365.80" width="193.80" height="145.70" fill="none" stroke="#1a1a1a" stroke-width="1.35"/><path d="M86.95,511.50v-2.60M86.95,365.80v2.60M135.40,511.50v-2.60M135.40,365.80v2.60M183.85,511.50v-2.60M183.85,365.80v2.60M38.50,475.07h2.60M232.30,475.07h-2.60M38.50,438.65h2.60M232.30,438.65h-2.60M38.50,402.23h2.60M232.30,402.23h-2.60" stroke="#1a1a1a" stroke-width="1.35" fill="none"/><g clip-path="url(#c31)"><path d="M38.5,511.4L51.3,511.2L60.5,510.8L67.8,510.1L71,509.6L73.9,509.0L76.5,508.3L79.2,507.4L81.6,506.4L83.8,505.3L86,504.0L87.9,502.6L89.9,501.0L91.8,499.1L93.5,497.2L95.2,495.1L96.9,492.7L98.6,490.0L100.3,487.0L101.7,484.2L104.9,477.3L107.5,470.5L110.2,462.9L112.6,455.5L118,438.6L120.1,432.1L122.1,426.8L123.8,422.8L125.5,419.5L126.4,418.0L127.2,417.1L128.1,416.1L128.9,415.6L129.8,415.2L130.6,415.1L131.3,415.2L132.3,415.6L133,416.1L133.9,417.1L135.6,419.6L137.6,423.3L139.3,427.2L141,431.6L148.2,451.7L151.6,460.6L155.3,469.1L158.7,476.0L161.8,481.6L165.2,486.8L166.9,489.0L168.8,491.4L170.5,493.2L172.5,495.2L174.9,497.3L177.3,499.2L179.7,500.8L182.4,502.4L185.3,503.8L188.2,505.1L191.4,506.2L194.5,507.1L197.9,507.9L201.8,508.7L205.7,509.3L210,509.8L219.9,510.6L232.3,511.1" fill="none" stroke="#d42424" stroke-width="1.80" stroke-linejoin="round"/><path d="M38.5,511.5L52.6,511.3L62,510.9L69.3,510.3L72.4,509.9L75.3,509.4L78,508.8L80.7,508.0L83.1,507.1L85.3,506.0L87.4,504.8L89.4,503.5L91.3,502.0L93.2,500.2L94.9,498.5L96.6,496.4L98.3,494.2L100,491.6L101.7,488.7L103.2,486.0L106.3,479.4L109,472.8L111.7,465.6L114.3,457.8L119.4,442.4L121.8,435.4L123.8,430.4L125.7,426.0L127.6,422.5L128.6,421.1L129.3,420.3L130.3,419.4L131,418.9L132,418.5L132.7,418.5L133.5,418.6L134.4,418.9L135.4,419.5L136.4,420.3L138.1,422.2L140,425.2L141.9,428.9L143.9,433.1L146.3,438.9L152.4,454.1L155.3,461.1L158.4,468.2L161.6,474.6L165.2,481.0L166.9,483.7L168.8,486.6L170.8,489.1L172.7,491.5L174.6,493.6L176.8,495.7L179,497.7L181.4,499.5L183.8,501.1L186.3,502.6L188.9,503.9L191.6,505.0L194.5,506.1L197.7,507.1L200.8,507.9L204.2,508.6L207.8,509.2L212,509.7L221.2,510.5L232.3,511.0" fill="none" stroke="#141414" stroke-width="1.80" stroke-linejoin="round"/><path d="M38.5,511.5L52.8,511.3L62.5,511.0L70,510.4L73.1,510.0L76,509.5L78.7,508.9L81.4,508.2L83.8,507.3L86.2,506.3L88.4,505.1L90.6,503.7L92.5,502.2L94.5,500.5L96.2,498.8L97.9,496.8L99.5,494.6L101.2,492.2L102.9,489.4L104.4,486.8L107.5,480.3L110.2,474.0L113.1,466.4L115.8,458.8L121.1,443.0L123.3,436.9L125.2,432.0L127.2,427.6L129.1,424.1L130.8,421.8L131.8,420.9L132.7,420.2L133.7,419.9L134.4,419.8L135.2,419.9L136.1,420.2L137.1,420.7L138.1,421.5L139,422.5L140,423.8L141.9,426.8L144.1,431.0L146.5,436.4L154.5,456.1L157.7,463.5L160.4,469.4L163,474.7L166.7,481.1L168.3,483.8L170.3,486.7L172.2,489.2L174.2,491.6L176.1,493.7L178,495.6L180.2,497.5L182.6,499.4L185.1,501.0L187.5,502.5L190.1,503.8L192.8,505.0L195.7,506.1L198.6,507.0L201.8,507.8L205.2,508.5L208.8,509.1L212.7,509.6L221.4,510.4L232.3,511.0" fill="none" stroke="#22d022" stroke-width="1.80" stroke-linejoin="round"/><path d="M38.5,511.5L54.5,511.4L64.7,511.1L72.4,510.6L78.5,509.9L81.4,509.3L84,508.6L86.5,507.8L88.6,507.0L90.8,505.9L93,504.6L94.9,503.2L96.9,501.6L98.6,500.0L100.3,498.2L102,496.1L103.7,493.7L105.4,491.1L106.8,488.6L110,482.4L112.6,476.4L115.5,469.0L118.2,461.8L123.5,446.6L126,440.1L128.1,434.8L130.1,430.7L132,427.4L133.7,425.3L134.7,424.4L135.6,423.8L136.6,423.5L137.3,423.5L138.3,423.6L139.3,423.9L140.2,424.4L141.5,425.2L142.4,426.1L143.6,427.5L144.8,429.1L146.1,430.9L148.2,434.6L150.7,439.3L153.1,444.5L162,464.2L165.2,470.6L168.3,476.5L171.7,482.1L175.4,487.3L179,491.8L180.9,493.8L182.9,495.7L185.1,497.6L187.2,499.3L189.4,500.8L191.8,502.3L194.3,503.6L196.9,504.8L199.6,505.8L202.3,506.7L205.2,507.5L208.3,508.2L211.7,508.9L215.1,509.4L222.9,510.2L232.3,510.8" fill="none" stroke="#1e1eb8" stroke-width="1.80" stroke-linejoin="round"/><path d="M38.5,511.5L51.3,511.3L59.6,511.0L63,510.7L66.1,510.3L68.8,509.9L71.2,509.3L73.6,508.5L75.8,507.7L77.7,506.7L79.7,505.4L81.4,504.1L83.1,502.5L84.8,500.6L86.2,498.6L87.4,496.8L88.6,494.7L89.9,492.4L91.1,489.8L93.2,484.4L95.4,478.0L97.9,469.5L100.3,459.8L102.7,448.9L108.3,422.2L109.7,415.9L111.2,410.2L112.9,404.7L113.6,402.8L114.3,401.3L115.1,400.0L115.8,399.2L116.5,398.6L117.2,398.5L118.2,398.7L119.2,399.2L120.1,400.0L121.3,401.4L122.3,402.9L123.5,405.1L124.7,407.8L126,410.7L127.9,416.1L130.1,423.0L138.1,450.4L141.2,460.6L144.6,470.6L146.3,475.1L148,479.2L149.5,482.5L151.1,485.9L152.6,488.7L154.3,491.5L156,494.1L157.7,496.4L159.4,498.4L161.1,500.2L163.3,502.1L165.4,503.8L167.6,505.2L170,506.4L172.7,507.6L175.6,508.5L178.5,509.2L181.9,509.9L185.3,510.3L188.9,510.7L198.1,511.2L210.7,511.4L232.3,511.5" fill="none" stroke="#d42424" stroke-width="1.85" stroke-dasharray="1.3 1.7"/><path d="M38.5,511.5L51.1,511.4L59.1,511.1L62.2,510.9L65.1,510.5L67.6,510.1L69.8,509.6L71.9,508.9L73.9,508.1L75.8,507.0L77.5,505.9L79.2,504.5L80.7,503.0L82.1,501.2L83.6,499.2L85.7,495.3L87.9,490.6L90.1,484.7L92,478.4L94.2,470.1L96.6,459.3L99.1,447.3L104.4,419.4L105.8,412.5L107.1,407.3L108.8,401.3L109.5,399.2L110.2,397.5L110.9,396.2L111.7,395.2L112.4,394.7L113.1,394.5L114.1,394.7L115.3,395.4L116.3,396.4L117.5,398.0L118.4,399.7L119.7,402.1L120.9,405.0L122.1,408.3L124,414.1L126.2,421.5L133.9,450.0L137.1,461.0L140.5,471.6L143.6,480.1L146.5,486.8L148,489.7L149.7,492.7L151.4,495.4L153.1,497.7L154.8,499.8L156.5,501.6L158.4,503.3L160.6,505.0L162.8,506.3L165.2,507.5L167.6,508.4L170.3,509.2L173.2,509.9L176.6,510.4L183.4,511.0L192.6,511.3L205.4,511.5L232.3,511.5" fill="none" stroke="#141414" stroke-width="1.85" stroke-dasharray="1.3 1.7"/><path d="M38.5,511.5L51.8,511.4L60.1,511.1L66.1,510.6L68.8,510.2L71,509.7L73.1,509.0L75.3,508.1L77.3,507.1L79,505.9L80.7,504.5L82.1,503.0L83.6,501.2L85,499.2L86.2,497.1L87.4,494.8L89.6,489.9L91.8,483.8L93.7,477.4L95.9,468.8L98.3,457.8L100.5,446.8L105.8,418.5L107.3,411.5L108.5,406.2L110,400.9L111.4,396.9L112.1,395.4L112.9,394.3L113.6,393.6L114.3,393.4L115.3,393.5L116.3,394.0L117.2,394.9L118.4,396.6L119.4,398.2L120.6,400.8L121.6,403.2L122.8,406.5L124.7,412.6L126.7,419.5L134.4,449.6L137.6,461.1L140.7,471.4L142.4,476.4L143.9,480.3L145.3,483.9L146.8,487.1L148.2,490.1L149.7,492.8L151.1,495.2L152.8,497.6L154.5,499.7L156.2,501.6L158.2,503.4L160.4,505.1L162.5,506.4L164.7,507.5L167.1,508.4L169.8,509.3L172.7,509.9L176.1,510.4L182.9,511.0L192.1,511.4L204.9,511.5L232.3,511.5" fill="none" stroke="#22d022" stroke-width="1.85" stroke-dasharray="1.3 1.7"/><path d="M38.5,511.5L52.1,511.4L59.8,511.2L65.6,510.7L67.8,510.3L70,509.8L71.9,509.2L73.9,508.4L75.6,507.5L77.3,506.3L79,504.8L80.4,503.2L81.9,501.3L83.1,499.4L84.3,497.3L85.3,495.3L87.2,490.6L89.1,484.8L91.1,477.9L93.2,468.7L95.4,458.1L97.6,446.2L102.7,416.8L104.1,409.2L105.4,403.5L106.8,397.8L107.5,395.4L108.3,393.5L109,391.9L109.7,390.8L110.4,390.1L111.2,389.9L112.1,390.1L113.1,390.7L114.1,391.6L115.3,393.3L116.3,394.9L117.5,397.5L118.7,400.5L119.9,403.9L121.8,410.1L124,417.9L131.8,448.5L134.9,460.2L138.3,471.6L140,476.6L141.5,480.6L142.9,484.3L144.4,487.6L145.8,490.6L147.3,493.3L148.7,495.7L150.4,498.2L152.1,500.3L153.8,502.2L155.7,504.0L157.7,505.4L159.9,506.8L162,507.9L164.5,508.8L167.1,509.6L170,510.2L173.2,510.6L179.7,511.1L188.7,511.4L232.3,511.5" fill="none" stroke="#1e1eb8" stroke-width="1.85" stroke-dasharray="1.3 1.7"/></g><text x="34.8" y="514.90" text-anchor="end" font-family="Liberation Sans, sans-serif" font-weight="bold" font-size="9.2" fill="#111">0</text><text x="34.8" y="478.47" text-anchor="end" font-family="Liberation Sans, sans-serif" font-weight="bold" font-size="9.2" fill="#111">0.05</text><text x="34.8" y="442.05" text-anchor="end" font-family="Liberation Sans, sans-serif" font-weight="bold" font-size="9.2" fill="#111">0.1</text><text x="34.8" y="405.62" text-anchor="end" font-family="Liberation Sans, sans-serif" font-weight="bold" font-size="9.2" fill="#111">0.15</text><text x="34.8" y="369.20" text-anchor="end" font-family="Liberation Sans, sans-serif" font-weight="bold" font-size="9.2" fill="#111">0.2</text><rect x="263.40" y="367.00" width="194.10" height="145.60" fill="none" stroke="#1a1a1a" stroke-width="1.35"/><path d="M311.92,512.60v-2.60M311.92,367.00v2.60M360.45,512.60v-2.60M360.45,367.00v2.60M408.98,512.60v-2.60M408.98,367.00v2.60M263.40,476.20h2.60M457.50,476.20h-2.60M263.40,439.80h2.60M457.50,439.80h-2.60M263.40,403.40h2.60M457.50,403.40h-2.60" stroke="#1a1a1a" stroke-width="1.35" fill="none"/><g clip-path="url(#c32)"><path d="M263.4,512.5L276.7,512.3L286.4,512.0L294,511.4L297.4,510.9L300.3,510.4L303.2,509.8L305.9,509.1L308.5,508.2L311,507.2L313.1,506.1L315.3,504.9L317.5,503.4L319.4,501.9L321.4,500.2L323.1,498.5L325,496.4L326.7,494.3L328.4,492.0L330.1,489.5L333.5,483.8L336.4,478.2L339.3,472.1L342.3,465.5L348.1,451.9L350.7,446.0L352.9,441.6L355.1,437.7L357.3,434.6L358.5,433.2L359.5,432.3L360.7,431.4L361.7,430.9L362.6,430.6L363.6,430.5L364.6,430.6L365.5,430.9L366.5,431.4L367.7,432.2L368.7,433.1L369.9,434.4L372.1,437.4L374.3,440.9L376.5,444.9L387.9,468.3L391,474.2L393.9,479.3L397.3,484.6L401,489.5L404.6,493.7L406.5,495.6L408.5,497.4L410.7,499.2L412.9,500.8L415,502.2L417.5,503.6L419.9,504.8L422.6,506.0L425.2,507.0L427.9,507.8L430.8,508.6L433.7,509.3L440.5,510.4L448.3,511.3L457.5,511.9" fill="none" stroke="#d42424" stroke-width="1.80" stroke-linejoin="round"/><path d="M263.4,512.6L278.7,512.5L288.6,512.2L296.4,511.7L302.7,511.0L305.6,510.5L308.5,509.8L311,509.1L313.4,508.2L315.6,507.2L317.7,506.0L319.9,504.6L321.9,503.2L323.8,501.6L325.5,499.9L327.5,497.9L329.2,495.8L330.8,493.5L332.5,491.0L335.9,485.4L338.9,479.8L341.8,473.7L350.5,453.6L353.2,447.7L355.6,442.8L357.8,439.0L360,435.9L361.2,434.5L362.1,433.5L363.4,432.6L364.3,432.1L365.3,431.8L366.3,431.7L367.2,431.8L368.5,432.1L369.4,432.5L370.6,433.3L371.6,434.2L372.8,435.4L374,436.9L375.3,438.6L377.4,442.0L379.6,445.9L382.3,451.1L391,468.5L394.2,474.3L397.1,479.3L400.5,484.5L404.1,489.3L407.8,493.4L411.4,496.9L413.3,498.6L415.5,500.2L417.7,501.7L420.1,503.1L422.6,504.4L425,505.5L427.4,506.4L430.1,507.4L435.7,508.9L442,510.1L449.3,511.0L457.5,511.6" fill="none" stroke="#141414" stroke-width="1.80" stroke-linejoin="round"/><path d="M263.4,512.6L278.9,512.5L289.1,512.2L297.1,511.8L303.4,511.1L306.3,510.6L309,510.0L311.7,509.3L314.1,508.5L316.5,507.5L318.7,506.4L320.9,505.2L322.8,503.9L324.8,502.4L326.5,500.9L328.4,499.0L330.1,497.2L332.1,494.9L333.8,492.6L337.2,487.5L340.1,482.6L343.2,476.6L346.1,470.7L352.4,457.5L355.1,452.1L357.5,447.7L360,443.8L361.2,442.1L362.4,440.7L363.6,439.4L364.6,438.6L365.8,437.8L366.8,437.3L368,436.9L368.9,436.8L369.9,436.9L371.1,437.1L372.3,437.6L373.6,438.3L374.8,439.2L376,440.4L377.2,441.7L378.6,443.4L380.8,446.5L383.5,450.7L386.2,455.3L395.4,471.7L398.5,476.9L401.5,481.3L404.9,486.0L408.2,490.2L411.6,493.8L415.3,497.1L417.2,498.7L419.4,500.3L423.5,502.8L427.9,505.0L432.8,506.9L437.8,508.4L443.7,509.6L450.2,510.6L457.5,511.3" fill="none" stroke="#22d022" stroke-width="1.80" stroke-linejoin="round"/><path d="M263.4,512.6L280.4,512.5L291.1,512.3L299.1,512.0L305.6,511.3L308.5,510.9L311.4,510.3L314.1,509.7L316.5,508.9L319,508.0L321.1,507.0L323.3,505.8L325.3,504.6L327.2,503.2L329.2,501.6L331.1,499.8L332.8,498.0L334.7,495.8L336.4,493.6L338.1,491.3L340.1,488.4L343.2,483.1L346.4,477.4L355.6,459.0L358.5,453.4L361.2,448.7L363.6,445.1L366,442.0L367.2,440.8L368.5,439.8L369.7,439.0L370.9,438.4L372.1,438.1L373.1,438.0L374.3,438.0L375.5,438.3L376.7,438.8L377.9,439.6L379.1,440.5L380.6,441.8L381.8,443.1L383.3,444.9L385.4,447.9L388.1,452.0L399.5,471.6L402.7,476.7L405.6,481.1L409,485.8L412.1,489.6L415.5,493.3L418.9,496.4L422.8,499.5L426.7,502.0L430.8,504.2L435.4,506.1L440.3,507.7L445.4,509.0L451.2,510.1L457.5,510.9" fill="none" stroke="#1e1eb8" stroke-width="1.80" stroke-linejoin="round"/><path d="M263.4,512.6L276.7,512.4L285.5,512.1L292.3,511.5L295.2,511.1L297.6,510.6L300,509.9L302.5,509.1L304.6,508.2L306.6,507.1L308.5,505.9L310.2,504.5L311.9,503.0L313.6,501.2L315.1,499.4L316.5,497.4L318,495.1L319.4,492.5L320.9,489.6L322.4,486.4L325,479.6L327,473.9L329.2,466.9L331.6,458.3L338.1,434.2L340.1,427.8L341.8,423.1L343.5,419.2L344.9,416.9L345.6,416.1L346.4,415.5L347.1,415.1L347.8,415.1L348.8,415.2L350,415.6L351,416.2L352.2,417.3L353.4,418.6L354.6,420.3L355.8,422.2L357.1,424.3L359.5,429.3L361.9,435.0L364.6,441.8L370.9,458.9L373.8,466.5L376.9,474.2L380.1,481.1L383.5,487.7L385.2,490.5L387.1,493.5L388.8,495.9L390.8,498.3L392.7,500.4L394.7,502.2L396.6,503.8L398.8,505.4L401,506.7L403.4,507.9L405.8,508.8L408.5,509.7L411.4,510.4L414.3,511.0L417.5,511.4L420.9,511.8L429.1,512.3L439.8,512.5L457.5,512.6" fill="none" stroke="#d42424" stroke-width="1.85" stroke-dasharray="1.3 1.7"/><path d="M263.4,512.6L277.5,512.5L285.7,512.3L291.8,511.9L294.5,511.6L296.6,511.2L298.8,510.6L301,509.9L302.9,509.0L304.6,508.1L306.3,506.9L308,505.5L309.5,504.1L311,502.4L312.4,500.4L313.6,498.5L315.1,495.9L316.3,493.5L317.7,490.3L319,487.3L321.4,480.5L323.6,473.4L325.8,465.6L332.5,438.8L334.5,431.4L336.2,425.6L337.9,420.5L339.6,416.4L340.6,414.5L341.3,413.4L342.3,412.2L343,411.6L343.7,411.3L344.4,411.2L345.4,411.3L346.4,411.8L347.3,412.4L348.6,413.6L349.5,414.8L350.5,416.3L352.7,420.3L354.9,425.2L357.1,430.8L359.7,438.4L365.8,456.6L368.7,465.0L371.9,473.4L374.8,480.3L376.5,484.0L378.2,487.3L379.9,490.3L381.8,493.5L383.5,495.9L385.4,498.4L387.4,500.5L389.3,502.4L391.3,504.0L393.4,505.6L395.6,506.9L398.1,508.0L400.7,509.1L403.4,509.9L406.3,510.6L409.5,511.1L412.6,511.5L416.3,511.9L425,512.3L436.9,512.5L457.5,512.6" fill="none" stroke="#141414" stroke-width="1.85" stroke-dasharray="1.3 1.7"/><path d="M263.4,512.6L277.5,512.5L285.7,512.3L291.8,511.9L294.5,511.5L296.6,511.1L298.8,510.5L301,509.7L302.9,508.8L304.6,507.9L306.3,506.7L308,505.2L309.5,503.8L311,502.0L312.4,500.0L313.9,497.7L315.3,495.1L316.5,492.6L318,489.3L319.2,486.3L321.6,479.3L323.8,472.2L326.2,463.4L335,428.7L336.9,421.9L338.6,416.8L340.3,412.6L341.3,410.7L342,409.5L343,408.3L343.7,407.6L344.4,407.2L345.2,407.1L346.1,407.2L347.3,407.8L348.3,408.6L349.5,410.0L350.5,411.4L351.7,413.6L352.9,416.1L354.1,419.0L356.1,424.2L358.3,430.8L365.8,455.5L369.2,466.1L372.6,475.6L374.3,479.9L376,483.8L378.9,489.6L380.3,492.2L381.8,494.5L383.3,496.7L385,498.9L386.7,500.8L388.4,502.5L390.3,504.2L392.5,505.7L394.7,507.0L397.1,508.2L399.5,509.2L402.2,510.0L405.1,510.7L408.2,511.2L411.4,511.6L415,511.9L423.8,512.3L435.9,512.5L457.5,512.6" fill="none" stroke="#22d022" stroke-width="1.85" stroke-dasharray="1.3 1.7"/><path d="M263.4,512.6L277.7,512.6L285.5,512.4L291.1,512.0L293.2,511.7L295.4,511.3L297.6,510.7L299.6,510.0L301.2,509.2L302.9,508.2L304.6,506.9L306.1,505.5L307.6,503.9L308.8,502.4L310.2,500.2L311.4,498.2L312.9,495.3L314.1,492.7L316.5,486.4L319,479.0L321.1,471.2L323.3,462.6L329.9,434.4L331.8,426.4L333.8,419.2L335.5,413.7L337.2,409.3L338.1,407.3L338.9,406.1L339.8,404.8L340.6,404.2L341.3,403.8L342,403.7L343,403.9L344,404.4L344.9,405.3L346.1,406.8L347.1,408.4L348.3,410.7L350.5,415.8L352.4,421.3L354.4,427.4L361.9,453.1L365.3,464.1L368.7,473.9L371.9,481.8L374.8,487.9L376.2,490.6L377.9,493.5L379.6,496.0L381.3,498.2L383,500.2L384.7,501.9L386.9,503.8L389.1,505.4L391.3,506.7L393.7,507.9L396.4,509.0L399,509.8L402.2,510.6L405.6,511.1L409,511.6L412.9,511.9L422.1,512.3L434.9,512.5L457.5,512.6" fill="none" stroke="#1e1eb8" stroke-width="1.85" stroke-dasharray="1.3 1.7"/></g><rect x="486.20" y="367.00" width="193.40" height="145.00" fill="none" stroke="#1a1a1a" stroke-width="1.35"/><path d="M534.55,512.00v-2.60M534.55,367.00v2.60M582.90,512.00v-2.60M582.90,367.00v2.60M631.25,512.00v-2.60M631.25,367.00v2.60M486.20,475.75h2.60M679.60,475.75h-2.60M486.20,439.50h2.60M679.60,439.50h-2.60M486.20,403.25h2.60M679.60,403.25h-2.60" stroke="#1a1a1a" stroke-width="1.35" fill="none"/><g clip-path="url(#c33)"><path d="M486.2,511.9L498.8,511.8L508.2,511.6L515.9,511.2L522.2,510.6L528,509.8L533.1,508.6L537.7,507.2L542,505.5L545.9,503.5L549.8,501.0L553.4,498.1L557,494.8L560.2,491.6L563.3,488.0L573,476.1L575.9,472.7L578.5,469.8L581,467.5L583.6,465.5L586,464.1L587.3,463.6L588.5,463.2L589.7,463.0L590.9,462.9L592.6,463.0L594.3,463.3L596,463.7L597.6,464.2L599.3,464.9L601.3,465.8L604.9,468.1L608,470.4L611.4,473.1L625.2,485.4L631.5,490.7L635.1,493.4L638.5,495.8L641.9,497.9L645.5,499.9L649.1,501.7L653,503.4L656.9,504.8L661,506.1L665.3,507.2L669.7,508.2L674.5,509.0L679.6,509.7" fill="none" stroke="#d42424" stroke-width="1.80" stroke-linejoin="round"/><path d="M486.2,512.0L512.6,511.9L520,511.7L525.8,511.3L531.2,510.7L536,509.8L540.4,508.6L544.5,507.0L548.1,505.1L551.7,502.8L555.1,500.2L558.7,496.9L561.9,493.6L565,490.0L574.9,477.7L578.1,474.0L581,470.8L583.6,468.3L586.5,466.1L588,465.2L589.2,464.6L590.6,464.0L591.8,463.7L593.1,463.5L594.3,463.4L596,463.5L597.6,463.7L599.3,464.1L601,464.6L602.7,465.3L604.7,466.2L606.6,467.3L608.5,468.5L611.7,470.7L615.1,473.4L628.6,485.3L634.9,490.4L638.3,493.0L641.6,495.3L645,497.4L648.4,499.3L651.8,501.0L655.4,502.7L659.1,504.1L662.7,505.3L666.5,506.4L670.7,507.4L675,508.3L679.6,509.0" fill="none" stroke="#141414" stroke-width="1.80" stroke-linejoin="round"/><path d="M486.2,512.0L515.2,511.9L522.9,511.7L529.2,511.4L534.8,510.9L539.9,510.2L544.5,509.1L548.6,507.8L552.4,506.2L556.1,504.3L559.7,501.9L563.6,498.9L566.7,496.2L570.1,493.0L580,482.6L583.1,479.5L586,476.8L588.7,474.7L591.6,472.8L594.3,471.5L596.9,470.6L598.4,470.4L599.6,470.3L601.3,470.4L603,470.5L604.7,470.8L606.6,471.3L608.3,471.9L610.2,472.7L614.1,474.7L617.2,476.6L620.9,479.1L633.9,488.9L640,493.2L643.1,495.2L646.2,497.1L649.4,498.9L652.5,500.4L655.7,501.9L658.8,503.2L662,504.3L665.3,505.4L668.7,506.4L672.1,507.2L679.6,508.7" fill="none" stroke="#22d022" stroke-width="1.80" stroke-linejoin="round"/><path d="M486.2,512.0L515.2,511.9L522.9,511.7L529.2,511.4L535,510.9L540.1,510.2L544.7,509.1L548.8,507.8L552.7,506.3L556.5,504.3L560.2,502.0L564,499.1L567.4,496.2L570.8,493.1L581.2,482.6L584.4,479.5L587.5,476.7L590.4,474.5L593.3,472.6L596.2,471.3L598.9,470.5L601.5,470.2L603.2,470.2L604.9,470.4L606.6,470.7L608.5,471.2L610.2,471.7L612.2,472.5L616,474.5L619.2,476.4L622.8,478.8L636.1,488.7L642.1,492.9L648.4,496.9L651.3,498.5L654.5,500.1L660.3,502.6L666.3,504.8L672.8,506.6L679.6,508.1" fill="none" stroke="#1e1eb8" stroke-width="1.80" stroke-linejoin="round"/><path d="M486.2,512.0L500.7,511.9L509.4,511.8L515.9,511.5L521,511.0L525.6,510.2L527.8,509.7L529.7,509.1L531.6,508.3L533.3,507.5L535,506.6L536.7,505.4L538.4,504.1L539.9,502.8L541.3,501.4L542.8,499.7L545.7,495.9L548.3,491.7L550.7,487.3L553.2,482.4L560.4,466.3L562.6,461.6L564.5,457.9L566.5,454.6L568.4,452.0L570.1,450.3L571.1,449.7L571.8,449.3L572.7,449.0L573.5,448.9L574.7,449.0L576.1,449.3L577.3,449.6L578.8,450.2L580.2,451.0L581.7,451.9L584.6,454.3L587.3,456.9L590.2,460.0L593.3,463.8L604.2,477.2L607.8,481.4L611.4,485.2L615.5,489.2L619.6,492.7L624,495.9L628.3,498.6L633.2,501.2L638.3,503.4L643.8,505.3L649.6,506.9L655.9,508.2L662.9,509.3L670.7,510.1L679.6,510.8" fill="none" stroke="#d42424" stroke-width="1.85" stroke-dasharray="1.3 1.7"/><path d="M486.2,512.0L501.2,512.0L509.6,511.8L515.7,511.6L520.5,511.1L524.9,510.4L526.8,509.9L528.7,509.2L530.4,508.5L532.1,507.7L533.8,506.7L535.3,505.7L536.7,504.5L538.2,503.1L539.6,501.6L541.1,499.8L543.7,496.1L546.4,491.6L548.6,487.4L551,482.3L560.2,461.1L562.1,457.1L564,453.7L566,450.9L567.7,449.1L568.6,448.4L569.6,447.8L570.6,447.5L571.3,447.5L572.5,447.6L573.7,447.8L574.9,448.2L576.1,448.8L578.5,450.4L581.2,452.7L583.4,455.0L586,458.2L588.9,462.0L596,471.6L599.6,476.3L603.2,480.8L606.8,485.0L610.9,489.1L615.3,493.0L619.6,496.3L624,499.1L626.4,500.4L629.1,501.7L634.4,504.0L640.2,505.9L646.5,507.5L653.2,508.8L661,509.8L669.7,510.6L679.6,511.1" fill="none" stroke="#141414" stroke-width="1.85" stroke-dasharray="1.3 1.7"/><path d="M486.2,512.0L500,512.0L508,511.8L514,511.5L518.8,511.0L521,510.6L523.2,510.1L525.1,509.5L527.1,508.7L528.7,507.9L530.4,507.0L532.1,505.8L533.6,504.7L535,503.3L536.5,501.8L537.9,500.1L539.4,498.2L542,494.0L544.7,489.1L546.9,484.6L549.3,479.0L556.5,460.6L558.7,455.3L560.7,451.0L562.6,447.2L564.5,444.1L565.5,442.9L566.5,441.8L567.4,441.0L568.4,440.4L569.4,440.1L570.1,440.0L571.1,440.1L572,440.4L573,440.8L574.2,441.6L575.2,442.4L576.4,443.6L578.5,446.3L580.5,449.2L582.4,452.3L590.6,466.7L594.5,473.1L598.6,479.2L602.7,484.6L606.3,488.8L610,492.4L613.8,495.6L617.7,498.4L620.4,500.0L623,501.5L625.7,502.8L628.6,504.0L631.7,505.1L634.9,506.1L638.3,507.0L641.6,507.8L649.1,509.1L657.8,510.1L667.8,510.9L679.6,511.4" fill="none" stroke="#22d022" stroke-width="1.85" stroke-dasharray="1.3 1.7"/><path d="M486.2,512.0L500,512.0L507.5,511.8L513.3,511.5L517.6,511.0L519.8,510.6L521.7,510.1L523.7,509.5L525.4,508.8L527.1,508.0L528.5,507.1L530,506.1L531.4,504.9L532.9,503.5L534.1,502.1L535.5,500.3L536.7,498.7L539.4,494.3L542,489.2L544.2,484.3L546.6,478.4L553.4,460.2L555.6,454.6L557.5,450.1L559.5,446.1L561.4,442.9L563.1,440.9L564,440.1L565,439.5L566,439.2L566.7,439.1L567.7,439.2L568.6,439.4L569.6,439.8L570.6,440.3L571.5,441.0L572.7,442.0L574.9,444.3L577.3,447.3L580.2,451.6L589.4,466.7L593.3,472.8L596.4,477.4L599.6,481.6L601.8,484.3L603.9,486.8L606.1,489.1L608.3,491.2L610.5,493.2L612.9,495.1L615.1,496.7L617.5,498.4L620.1,500.0L622.8,501.4L625.7,502.8L628.6,504.0L631.7,505.1L634.9,506.1L638.3,507.0L641.6,507.8L649.1,509.1L657.8,510.1L667.8,510.8L679.6,511.4" fill="none" stroke="#1e1eb8" stroke-width="1.85" stroke-dasharray="1.3 1.7"/></g><rect x="38.50" y="538.10" width="193.80" height="146.50" fill="none" stroke="#1a1a1a" stroke-width="1.35"/><path d="M86.95,684.60v-2.60M86.95,538.10v2.60M135.40,684.60v-2.60M135.40,538.10v2.60M183.85,684.60v-2.60M183.85,538.10v2.60M38.50,655.30h2.60M232.30,655.30h-2.60M38.50,626.00h2.60M232.30,626.00h-2.60M38.50,596.70h2.60M232.30,596.70h-2.60M38.50,567.40h2.60M232.30,567.40h-2.60" stroke="#1a1a1a" stroke-width="1.35" fill="none"/><g clip-path="url(#c41)"><path d="M38.5,684.6L56.2,684.4L67.8,684.1L72.4,683.8L76.5,683.4L80.2,682.9L83.6,682.3L86.7,681.6L89.6,680.7L92.3,679.6L94.9,678.3L97.4,676.8L99.5,675.2L101.7,673.3L103.9,671.1L105.8,668.8L107.5,666.5L109.2,664.0L110.9,661.1L112.6,658.0L114.3,654.5L117.7,646.8L120.6,639.2L123.5,630.9L133.2,601.0L136.9,590.3L140.5,580.6L142.4,575.9L144.1,572.1L146.1,568.2L148,564.6L149.9,561.4L152.1,558.2L154.1,555.7L156.2,553.3L158.4,551.2L160.8,549.2L163,547.7L165.2,546.4L167.6,545.2L170.3,544.1L172.9,543.3L175.9,542.5L179,541.9L182.6,541.3L190.1,540.6L199.8,540.1L212.7,539.8L232.3,539.7" fill="none" stroke="#d42424" stroke-width="1.80" stroke-linejoin="round"/><path d="M38.5,684.6L57.4,684.5L69.3,684.2L73.9,683.9L78,683.6L81.6,683.1L85,682.6L88.2,681.8L91.1,681.0L93.7,680.0L96.4,678.7L98.8,677.3L101,675.7L103.2,673.9L105.4,671.7L107.3,669.4L109,667.2L110.7,664.7L112.4,661.9L114.1,658.8L115.8,655.5L119.2,647.9L122.1,640.5L125,632.5L134.9,602.8L138.8,591.7L142.7,581.7L144.6,577.1L146.5,572.9L148.5,569.1L150.7,565.1L152.6,562.0L154.8,558.9L157,556.1L159.1,553.7L161.6,551.4L164,549.4L166.2,547.9L168.6,546.4L171,545.2L173.7,544.1L176.6,543.1L179.5,542.3L182.6,541.6L186,541.1L189.7,540.6L193.5,540.2L203,539.6L214.9,539.3L232.3,539.2" fill="none" stroke="#141414" stroke-width="1.80" stroke-linejoin="round"/><path d="M38.5,684.6L56.7,684.5L68.1,684.3L76.5,683.9L83.1,683.3L86.2,682.8L88.9,682.3L91.3,681.6L93.7,680.9L95.9,680.0L98.1,678.9L100.3,677.6L102.2,676.3L104.4,674.5L106.3,672.6L108.3,670.4L110.2,668.0L112.1,665.1L113.8,662.4L115.8,658.9L117.5,655.5L120.9,647.9L124.5,638.7L128.1,628.6L135.6,606.5L138.8,597.6L142.2,588.5L145.3,580.9L147.3,576.5L149.2,572.5L151.1,568.9L153.1,565.5L155,562.5L157,559.8L158.9,557.3L161.1,554.9L163.5,552.5L166.2,550.2L168.8,548.4L171.5,546.8L174.4,545.4L177.6,544.1L180.7,543.1L184.3,542.2L188.2,541.4L192.3,540.8L196.9,540.3L202,540.0L214.4,539.5L232.3,539.2" fill="none" stroke="#22d022" stroke-width="1.80" stroke-linejoin="round"/><path d="M38.5,684.6L56.2,684.5L67.8,684.2L76.8,683.7L84,683.0L87.4,682.5L90.3,681.9L93.2,681.1L95.9,680.2L98.3,679.2L100.8,678.1L102.9,676.8L105.1,675.3L107.3,673.6L109.5,671.6L111.7,669.3L113.6,666.9L115.8,663.9L117.7,660.9L119.7,657.5L121.6,653.8L125.2,646.1L129.1,636.6L133,626.3L143.4,597.2L146.5,589.1L149.7,581.7L151.6,577.5L153.6,573.6L155.3,570.5L157.2,567.1L159.1,564.1L161.1,561.4L163,559.0L165,556.8L167.4,554.5L169.8,552.4L172.2,550.7L174.9,549.0L177.8,547.6L180.7,546.4L183.8,545.3L187.5,544.4L191.1,543.6L195,543.1L199.4,542.6L204.2,542.2L215.8,541.7L232.3,541.4" fill="none" stroke="#1e1eb8" stroke-width="1.80" stroke-linejoin="round"/><path d="M38.5,684.6L55.5,684.5L65.4,684.3L72.7,683.8L75.6,683.4L78.2,682.9L80.7,682.3L83.1,681.6L85.3,680.6L87.4,679.5L89.4,678.2L91.3,676.6L93,674.9L94.7,672.9L96.2,671.0L97.6,668.8L99.1,666.3L100.5,663.5L102,660.5L103.4,657.1L106.3,649.4L108.8,642.2L111.2,634.3L119.9,603.6L123.3,592.2L126.9,581.2L128.6,576.6L130.3,572.4L132.3,568.0L134.2,564.0L136.1,560.5L138.3,557.1L140.5,554.1L142.7,551.5L144.8,549.4L147.3,547.3L149.5,545.8L151.9,544.4L154.5,543.2L157.2,542.1L160.1,541.3L163.3,540.5L166.9,539.9L170.8,539.4L179.2,538.8L190.1,538.4L205.4,538.2L232.3,538.2" fill="none" stroke="#d42424" stroke-width="1.85" stroke-dasharray="1.3 1.7"/><path d="M38.5,684.6L55.2,684.5L64.9,684.3L71.9,683.8L74.8,683.4L77.5,683.0L80.2,682.3L82.6,681.5L84.8,680.5L86.7,679.4L88.6,678.1L90.3,676.6L92,674.9L93.7,672.9L95.2,670.9L96.6,668.5L98.1,665.9L99.3,663.5L102,657.5L104.9,649.6L107.3,642.0L109.7,633.9L118,603.8L121.3,592.0L124.7,581.4L126.4,576.6L128.1,572.3L130.1,567.7L132,563.7L133.9,560.1L135.9,557.0L138.1,554.0L140.2,551.4L142.4,549.2L144.8,547.2L147,545.7L149.5,544.3L151.9,543.2L154.5,542.2L157.4,541.3L160.6,540.6L164.2,540.0L168.1,539.6L176.3,539.0L187.5,538.7L203.2,538.5L232.3,538.5" fill="none" stroke="#141414" stroke-width="1.85" stroke-dasharray="1.3 1.7"/><path d="M38.5,684.6L55.2,684.5L64.7,684.3L71.7,683.8L74.6,683.4L77,683.0L79.4,682.4L81.9,681.6L84,680.7L86,679.6L87.9,678.3L89.6,676.8L91.3,675.1L93,673.1L94.5,671.0L95.9,668.7L97.4,666.1L98.6,663.6L101.2,657.4L103.9,650.1L106.3,642.4L108.8,634.1L117,603.4L120.1,592.2L123.5,581.4L125.2,576.6L126.9,572.1L128.9,567.5L130.8,563.4L132.7,559.8L134.7,556.7L136.6,554.0L138.8,551.4L141,549.2L143.4,547.1L145.6,545.6L148,544.3L150.4,543.2L153.1,542.2L156,541.4L159.1,540.7L162.5,540.1L166.4,539.7L174.9,539.1L186,538.8L201.8,538.7L232.3,538.7" fill="none" stroke="#22d022" stroke-width="1.85" stroke-dasharray="1.3 1.7"/><path d="M38.5,684.6L55,684.5L64.2,684.3L71,683.9L73.9,683.5L76.3,683.0L78.7,682.4L80.9,681.7L82.8,680.8L84.8,679.7L86.7,678.4L88.4,676.9L90.1,675.1L91.6,673.3L93,671.2L94.2,669.2L95.7,666.5L96.9,664.0L98.3,660.6L99.5,657.5L102.2,649.8L104.4,642.6L106.6,634.7L114.6,603.4L117.7,591.7L121.1,580.5L122.8,575.5L124.3,571.5L126,567.4L127.9,563.1L129.8,559.5L131.8,556.3L133.7,553.5L135.9,550.9L138.1,548.7L140.2,547.0L142.4,545.5L144.6,544.3L147,543.2L149.7,542.3L152.6,541.5L155.7,540.8L159.1,540.3L163,539.9L171.3,539.4L182.6,539.2L232.3,539.1" fill="none" stroke="#1e1eb8" stroke-width="1.85" stroke-dasharray="1.3 1.7"/></g><text x="34.8" y="688.00" text-anchor="end" font-family="Liberation Sans, sans-serif" font-weight="bold" font-size="9.2" fill="#111">0</text><text x="34.8" y="658.70" text-anchor="end" font-family="Liberation Sans, sans-serif" font-weight="bold" font-size="9.2" fill="#111">0.2</text><text x="34.8" y="629.40" text-anchor="end" font-family="Liberation Sans, sans-serif" font-weight="bold" font-size="9.2" fill="#111">0.4</text><text x="34.8" y="600.10" text-anchor="end" font-family="Liberation Sans, sans-serif" font-weight="bold" font-size="9.2" fill="#111">0.6</text><text x="34.8" y="570.80" text-anchor="end" font-family="Liberation Sans, sans-serif" font-weight="bold" font-size="9.2" fill="#111">0.8</text><text x="34.8" y="541.50" text-anchor="end" font-family="Liberation Sans, sans-serif" font-weight="bold" font-size="9.2" fill="#111">1</text><rect x="262.80" y="537.50" width="194.20" height="146.10" fill="none" stroke="#1a1a1a" stroke-width="1.35"/><path d="M311.35,683.60v-2.60M311.35,537.50v2.60M359.90,683.60v-2.60M359.90,537.50v2.60M408.45,683.60v-2.60M408.45,537.50v2.60M262.80,654.38h2.60M457.00,654.38h-2.60M262.80,625.16h2.60M457.00,625.16h-2.60M262.80,595.94h2.60M457.00,595.94h-2.60M262.80,566.72h2.60M457.00,566.72h-2.60" stroke="#1a1a1a" stroke-width="1.35" fill="none"/><g clip-path="url(#c42)"><path d="M262.8,683.5L279.3,683.4L291,683.0L299.9,682.5L303.8,682.1L307.5,681.6L310.9,681.0L314,680.3L316.9,679.4L319.6,678.5L322.3,677.4L324.7,676.1L327.1,674.7L329.3,673.2L331.7,671.2L333.9,669.2L336.1,666.9L338.3,664.3L340.5,661.4L342.4,658.5L344.6,654.9L346.5,651.4L350.4,643.5L354.6,634.1L358.4,624.5L369.4,596.3L373,587.5L376.2,580.6L380,572.9L382,569.4L383.9,566.3L385.9,563.4L387.8,560.7L389.8,558.3L391.9,555.8L394.4,553.5L396.8,551.4L399.5,549.4L402.1,547.7L405.1,546.2L408,544.9L411.4,543.7L414.8,542.7L418.4,541.8L422.3,541.2L426.7,540.6L431.3,540.1L436.4,539.7L442.2,539.5L457,539.1" fill="none" stroke="#d42424" stroke-width="1.80" stroke-linejoin="round"/><path d="M262.8,683.5L279.1,683.3L291,682.8L300.4,682.2L304.6,681.7L308.2,681.1L311.6,680.5L315,679.7L318.1,678.8L321.1,677.7L323.7,676.6L326.4,675.3L329.1,673.7L331.5,672.0L333.9,670.1L336.4,667.9L338.8,665.4L341,662.9L343.2,660.1L345.3,657.0L347.5,653.5L349.7,649.8L351.6,646.2L353.8,641.9L358,633.0L362.1,623.3L373.3,596.1L376.9,587.9L380,581.2L383.9,573.9L385.9,570.6L387.8,567.6L389.8,564.7L391.7,562.2L393.6,559.8L395.6,557.7L398,555.3L400.4,553.3L402.9,551.5L405.5,549.8L408.5,548.2L411.4,546.9L414.5,545.7L417.7,544.7L421.1,543.9L424.7,543.2L428.8,542.5L433.2,542.0L438.1,541.6L443.6,541.3L457,540.9" fill="none" stroke="#141414" stroke-width="1.80" stroke-linejoin="round"/><path d="M262.8,683.6L282.2,683.5L294.6,683.2L304.1,682.7L311.6,681.9L315,681.4L318.1,680.7L321.1,680.0L324,679.0L326.6,677.9L329.1,676.8L331.5,675.4L333.9,673.7L336.1,672.0L338.3,670.1L340.5,667.8L342.7,665.3L344.8,662.5L346.8,659.7L348.7,656.7L350.9,653.0L354.8,645.7L358.9,637.0L363.1,627.6L374.5,600.5L378.1,592.5L381.5,585.5L385.6,577.9L389.5,571.6L391.5,568.8L393.4,566.1L395.3,563.7L397.5,561.3L400,558.8L402.6,556.4L405.3,554.3L408,552.5L410.9,550.8L413.8,549.3L416.9,548.0L420.1,546.9L423.5,545.9L427.1,545.0L431,544.3L435.4,543.6L440,543.1L445.1,542.6L457,542.0" fill="none" stroke="#22d022" stroke-width="1.80" stroke-linejoin="round"/><path d="M262.8,683.6L283.7,683.5L296.5,683.3L306.3,682.8L314,682.1L317.7,681.6L321.1,680.9L324,680.1L326.9,679.2L329.6,678.2L332,677.0L334.4,675.7L336.8,674.1L339,672.4L341.2,670.5L343.4,668.3L345.6,665.9L347.8,663.1L349.9,660.1L351.9,657.1L354.1,653.5L357.7,646.9L361.8,638.5L366,629.4L377.4,603.4L381,595.6L384.4,588.9L388.5,581.4L392.4,575.2L396.3,569.9L398.3,567.5L400.4,565.0L402.9,562.6L405.3,560.4L408,558.2L410.6,556.3L413.3,554.7L416.2,553.1L419.4,551.7L422.5,550.5L425.9,549.4L429.3,548.5L433,547.7L437.1,546.9L441.5,546.3L446.1,545.8L457,545.1" fill="none" stroke="#1e1eb8" stroke-width="1.80" stroke-linejoin="round"/><path d="M262.8,683.6L281.2,683.5L291.7,683.3L299.2,682.8L302.4,682.5L305.3,682.0L308,681.4L310.6,680.6L313,679.6L315.2,678.6L317.4,677.2L319.4,675.8L321.3,674.0L323.2,672.0L324.9,669.9L326.4,667.9L328.1,665.2L329.6,662.7L332.5,657.0L335.6,649.7L338.3,642.7L341.2,634.5L350.9,604.8L354.8,593.5L357,587.5L358.9,582.6L360.9,578.0L362.8,573.7L365,569.3L367.2,565.3L369.4,561.8L371.6,558.6L373.7,555.8L376.2,553.1L378.6,550.8L381.3,548.6L383.7,546.9L386.1,545.5L388.8,544.2L391.7,543.0L394.6,542.0L397.8,541.2L401.2,540.4L405.1,539.8L408.9,539.3L413.3,538.9L423.7,538.3L437.1,538.0L457,537.9" fill="none" stroke="#d42424" stroke-width="1.85" stroke-dasharray="1.3 1.7"/><path d="M262.8,683.6L280.5,683.5L290.7,683.3L298.2,682.8L301.4,682.4L304.1,681.9L306.7,681.3L309.4,680.5L311.6,679.6L313.8,678.4L316,677.0L317.9,675.5L319.8,673.6L321.5,671.8L323.2,669.6L324.7,667.5L326.2,665.1L327.6,662.5L330.5,656.6L333.7,649.0L336.4,641.7L339,633.7L348.2,604.3L351.9,593.3L355.8,582.5L357.7,577.7L359.7,573.2L361.6,569.2L363.8,565.0L366,561.3L368.2,558.1L370.3,555.2L372.8,552.5L375.2,550.1L377.6,548.1L380,546.5L382.5,545.0L385.1,543.7L388.1,542.6L391.2,541.6L394.4,540.8L397.8,540.1L401.7,539.5L405.5,539.1L409.9,538.7L420.6,538.2L434.7,538.0L457,537.9" fill="none" stroke="#141414" stroke-width="1.85" stroke-dasharray="1.3 1.7"/><path d="M262.8,683.6L280,683.5L290,683.3L297.3,682.8L300.4,682.4L303.1,681.9L306,681.2L308.4,680.5L310.6,679.5L312.8,678.4L314.7,677.1L316.7,675.6L318.6,673.7L320.3,671.8L322,669.6L323.5,667.5L324.9,665.1L326.4,662.5L329.3,656.3L332.2,649.2L334.9,641.7L337.6,633.6L346.5,604.1L350.2,592.8L354.1,581.8L356,576.9L357.7,572.9L359.7,568.7L361.8,564.5L363.8,561.1L366,557.8L368.2,554.9L370.6,552.1L373,549.8L375.4,547.8L377.9,546.1L380.3,544.7L383,543.4L385.6,542.4L388.5,541.4L391.9,540.6L395.3,539.9L399.2,539.4L403.4,539.0L407.7,538.6L418.4,538.2L433,538.0L457,537.9" fill="none" stroke="#22d022" stroke-width="1.85" stroke-dasharray="1.3 1.7"/><path d="M262.8,683.6L279.5,683.5L289.3,683.3L296.5,682.7L299.5,682.4L302.1,681.9L304.8,681.2L307.2,680.4L309.4,679.5L311.6,678.3L313.5,677.0L315.5,675.4L317.2,673.7L318.9,671.7L320.3,669.8L321.8,667.6L323.2,665.1L324.7,662.4L326.2,659.4L327.6,656.1L330.5,648.6L333,641.5L335.6,633.1L344.1,604.0L347.8,592.2L351.4,581.5L353.3,576.4L355,572.2L357,567.9L358.9,564.1L360.9,560.6L363.1,557.2L365.2,554.2L367.4,551.7L369.9,549.3L372.3,547.3L374.7,545.6L377.1,544.2L379.8,543.0L382.5,542.0L385.4,541.1L388.5,540.4L392.2,539.7L396.1,539.2L404.6,538.5L415.5,538.1L430.8,537.9L457,537.9" fill="none" stroke="#1e1eb8" stroke-width="1.85" stroke-dasharray="1.3 1.7"/></g><rect x="485.80" y="538.70" width="194.00" height="145.80" fill="none" stroke="#1a1a1a" stroke-width="1.35"/><path d="M534.30,684.50v-2.60M534.30,538.70v2.60M582.80,684.50v-2.60M582.80,538.70v2.60M631.30,684.50v-2.60M631.30,538.70v2.60M485.80,655.34h2.60M679.80,655.34h-2.60M485.80,626.18h2.60M679.80,626.18h-2.60M485.80,597.02h2.60M679.80,597.02h-2.60M485.80,567.86h2.60M679.80,567.86h-2.60" stroke="#1a1a1a" stroke-width="1.35" fill="none"/><g clip-path="url(#c43)"><path d="M485.8,684.5L504.2,684.4L516.4,684.2L525.6,683.8L533.1,683.2L536.7,682.8L539.9,682.3L542.8,681.7L545.7,681.0L548.4,680.2L551,679.2L553.5,678.2L555.9,677.0L558.3,675.6L560.5,674.2L562.7,672.6L564.9,670.9L567,668.9L569,667.0L571.2,664.7L573.3,662.2L577.2,657.4L581.6,651.3L586,644.8L598.3,625.7L602.2,620.1L605.8,615.2L610.2,609.8L614.3,605.3L618.4,601.3L622.8,597.7L625.2,595.9L627.9,594.1L630.6,592.6L633.5,591.0L636.4,589.7L639.3,588.5L642.5,587.4L645.8,586.4L649.2,585.5L652.9,584.7L656.8,584.0L660.6,583.5L669.4,582.5L679.8,581.8" fill="none" stroke="#d42424" stroke-width="1.80" stroke-linejoin="round"/><path d="M485.8,684.5L525.1,684.4L533.3,684.3L539.4,684.0L545.2,683.4L547.9,683.0L550.3,682.4L552.5,681.9L554.7,681.1L556.9,680.3L558.8,679.3L560.7,678.3L562.7,677.0L564.6,675.6L566.6,674.1L570.2,670.6L574.1,666.3L577.7,661.7L581.6,656.3L585.7,650.1L597.8,631.3L602,625.3L605.6,620.3L610,614.9L614.3,610.0L618.7,605.7L623.3,601.8L626,599.8L628.6,598.0L631.3,596.3L634.2,594.7L637.1,593.3L640.3,591.9L643.4,590.7L646.6,589.6L650,588.7L653.6,587.7L657.5,586.9L661.4,586.2L669.9,585.1L679.8,584.2" fill="none" stroke="#141414" stroke-width="1.80" stroke-linejoin="round"/><path d="M485.8,684.5L523.9,684.4L532.6,684.2L539.4,683.9L545.7,683.2L548.6,682.7L551.3,682.1L553.7,681.5L556.1,680.7L558.5,679.8L560.7,678.8L562.9,677.6L564.9,676.5L567,675.0L569,673.6L573.1,670.1L577.2,666.0L581.1,661.7L585.2,656.6L589.6,651.0L602.2,634.2L606.3,629.0L610,624.6L614.6,619.5L618.9,615.1L623.3,611.2L627.7,607.7L630.3,605.8L633,604.1L638.3,601.0L641.2,599.5L644.2,598.2L647.1,597.0L650.2,595.9L656.8,593.9L663.8,592.3L671.3,591.0L679.8,589.9" fill="none" stroke="#22d022" stroke-width="1.80" stroke-linejoin="round"/><path d="M485.8,684.5L508.8,684.5L522.2,684.3L532.1,684.1L539.9,683.6L546.9,682.8L550.1,682.3L553,681.7L555.9,680.9L558.5,680.1L561.2,679.1L563.6,678.0L566.1,676.8L568.2,675.6L570.4,674.2L572.6,672.6L574.8,670.9L577,669.1L581.3,664.9L585.5,660.5L589.8,655.3L594.2,649.8L606.6,633.9L610.4,629.1L614.1,624.9L618.2,620.5L622.3,616.4L626.5,612.8L630.6,609.6L633,607.9L635.7,606.1L640.8,603.3L646.1,600.8L651.9,598.6L658,596.8L664.5,595.3L671.8,594.1L679.8,593.1" fill="none" stroke="#1e1eb8" stroke-width="1.80" stroke-linejoin="round"/><path d="M485.8,684.5L516.4,684.4L523.1,684.3L528.2,684.0L532.8,683.4L537,682.5L538.9,681.9L540.6,681.2L542.3,680.5L544,679.5L545.7,678.4L547.4,677.2L549.1,675.7L550.8,674.0L553.9,670.4L555.6,668.1L557.3,665.6L560.5,660.5L564.1,653.9L568,646.2L576,629.5L579.9,621.6L583.8,614.3L587.6,607.5L589.8,604.0L592,600.8L594.2,597.8L596.6,594.7L598.8,592.1L601.2,589.6L603.7,587.3L606.1,585.2L609,583.0L611.9,581.0L615.1,579.2L618.2,577.7L621.6,576.3L625,575.1L628.6,574.0L632.8,573.0L636.9,572.3L641.2,571.6L646.1,571.0L651.4,570.6L663.8,569.9L679.8,569.5" fill="none" stroke="#d42424" stroke-width="1.85" stroke-dasharray="1.3 1.7"/><path d="M485.8,684.5L506.2,684.5L516.1,684.4L523.1,684.1L528.7,683.5L531.4,683.1L533.8,682.6L536,681.9L538.2,681.1L540.1,680.2L542.1,679.1L544,677.8L545.7,676.5L547.4,674.9L548.9,673.4L550.5,671.5L552,669.6L555.2,665.1L558.3,659.8L561,654.8L564.1,648.4L574.8,625.3L579.2,616.3L583.8,607.6L586,603.9L588.1,600.4L590.6,596.9L593,593.6L595.4,590.7L598.1,587.8L600.7,585.2L603.4,583.0L606.1,581.0L609,579.2L611.7,577.7L614.3,576.4L617.2,575.2L620.1,574.2L623.3,573.2L626.7,572.4L630.1,571.7L634,571.1L642.2,570.1L651.9,569.4L664,569.0L679.8,568.8" fill="none" stroke="#141414" stroke-width="1.85" stroke-dasharray="1.3 1.7"/><path d="M485.8,684.5L504.7,684.5L514.7,684.3L521.7,684.0L527.3,683.4L529.9,683.0L532.4,682.4L534.5,681.8L536.7,680.9L538.9,679.9L540.8,678.7L542.8,677.3L544.5,675.9L546.2,674.3L547.6,672.8L550.5,669.1L553.7,664.4L556.9,658.9L559.5,653.7L562.4,647.6L572.9,624.0L577,615.0L581.3,606.4L583.5,602.5L585.7,598.9L588.1,595.2L590.6,591.8L593,588.8L595.4,586.1L597.8,583.7L600.5,581.4L603.2,579.4L606.1,577.5L608.7,576.0L611.4,574.7L614.3,573.5L617.2,572.5L620.4,571.6L623.8,570.8L627.2,570.2L631.1,569.6L639.5,568.7L649.7,568.1L662.3,567.7L679.8,567.5" fill="none" stroke="#22d022" stroke-width="1.85" stroke-dasharray="1.3 1.7"/><path d="M485.8,684.5L503.7,684.4L513.4,684.3L520.7,683.9L526.3,683.3L529,682.8L531.4,682.2L533.6,681.5L535.8,680.6L537.7,679.6L539.6,678.4L541.6,676.9L543.3,675.5L545,673.8L546.4,672.1L548.1,670.0L549.6,668.0L552.5,663.4L555.6,657.5L558.3,652.0L561,646.1L570.9,622.3L575,612.9L579.2,604.4L581.3,600.3L583.3,596.9L585.5,593.4L587.9,589.9L590.1,587.0L592.5,584.2L594.9,581.7L597.6,579.3L600.3,577.2L602.9,575.4L605.4,574.1L608,572.8L610.9,571.5L613.8,570.5L617,569.7L620.4,568.9L624,568.2L627.9,567.6L636.4,566.8L647.1,566.3L660.6,566.0L679.8,565.8" fill="none" stroke="#1e1eb8" stroke-width="1.85" stroke-dasharray="1.3 1.7"/></g><rect x="38.50" y="709.80" width="193.10" height="145.80" fill="none" stroke="#1a1a1a" stroke-width="1.35"/><path d="M86.78,855.60v-2.60M86.78,709.80v2.60M135.05,855.60v-2.60M135.05,709.80v2.60M183.32,855.60v-2.60M183.32,709.80v2.60M38.50,826.44h2.60M231.60,826.44h-2.60M38.50,797.28h2.60M231.60,797.28h-2.60M38.50,768.12h2.60M231.60,768.12h-2.60M38.50,738.96h2.60M231.60,738.96h-2.60" stroke="#1a1a1a" stroke-width="1.35" fill="none"/><g clip-path="url(#c51)"><path d="M38.5,855.6L58.8,855.5L70.6,855.3L79.5,854.8L83.2,854.5L86.3,854.0L89.4,853.4L92.3,852.7L95,851.9L97.6,850.8L100.1,849.5L102.2,848.2L104.4,846.5L106.3,844.8L108,843.0L109.7,841.0L111.4,838.8L112.8,836.6L115.7,831.5L118.6,825.5L121.8,817.8L125.2,808.1L128.3,798.1L136,772.1L137.9,766.2L139.9,760.9L142,755.8L143.3,753.6L144.2,752.1L145.4,750.7L146.4,749.9L147.4,749.4L148.3,749.2L149,749.3L150,749.6L151,750.2L151.9,751.1L152.9,752.3L153.9,753.7L154.8,755.3L156,757.6L158,761.8L159.9,766.6L162.3,773.1L170.5,796.0L173.4,803.4L176.3,810.2L179.5,816.9L182.8,823.2L186.2,828.6L189.6,833.2L191.5,835.5L193.7,837.8L195.6,839.7L197.8,841.6L200,843.2L202.2,844.7L204.6,846.2L207,847.4L209.4,848.5L212,849.6L214.9,850.5L217.8,851.3L221,852.1L224.4,852.7L231.6,853.8" fill="none" stroke="#141414" stroke-width="1.80" stroke-linejoin="round"/><path d="M38.5,855.6L60.7,855.5L73.7,855.3L83.4,854.9L87.3,854.6L90.9,854.1L94.5,853.6L97.6,852.9L100.5,852.1L103.2,851.2L105.8,850.0L108.3,848.7L110.4,847.3L112.6,845.7L114.5,844.0L116.2,842.3L117.9,840.4L119.6,838.3L121.3,835.9L123,833.3L126.1,827.7L127.8,824.2L129.5,820.5L133.1,811.5L136.5,802.2L144.2,779.8L146.2,774.6L148.1,770.0L149.3,767.4L150.5,765.1L151.7,763.2L152.7,761.9L153.9,760.6L154.8,759.9L155.8,759.5L156.8,759.3L157.7,759.4L158.7,759.7L159.7,760.3L160.6,761.1L161.6,762.1L162.6,763.4L164.7,766.8L166.7,770.5L168.6,774.6L178.5,797.7L181.4,804.0L184,809.5L187.2,815.3L190.3,820.6L193.5,825.2L196.6,829.4L200.2,833.5L203.8,837.0L205.8,838.6L207.9,840.3L212,843.1L216.4,845.5L221,847.6L226,849.4L231.6,850.9" fill="none" stroke="#1e1eb8" stroke-width="1.80" stroke-linejoin="round"/><path d="M38.5,855.6L55.6,855.5L66,855.2L70.1,855.0L73.5,854.6L76.6,854.2L79.5,853.7L82.2,853.0L84.8,852.1L87.3,851.0L89.4,849.8L91.6,848.2L93.5,846.6L95.5,844.6L97.2,842.5L98.6,840.4L100.1,838.1L101.5,835.5L102.7,833.0L104.2,829.8L105.4,826.8L108,819.3L110.7,810.4L113.6,799.2L116.5,786.7L123,757.2L124.7,750.2L126.4,743.9L128.3,738.0L129.3,735.6L130.2,733.6L131.2,732.1L131.9,731.3L132.9,730.7L133.6,730.5L134.3,730.7L135.1,731.1L135.8,731.9L136.7,733.3L137.5,734.7L138.4,736.9L140.1,741.6L141.6,746.4L143,751.7L149.3,776.3L152.4,788.0L155.8,799.3L157.5,804.4L159.2,809.1L162.3,816.9L164,820.6L165.7,824.0L167.4,827.1L169.1,829.9L170.8,832.4L172.7,835.0L174.9,837.6L177.3,840.2L179.7,842.3L182.4,844.4L185,846.1L187.9,847.7L190.8,849.1L193.9,850.3L197.3,851.3L200.9,852.2L204.8,853.0L209.2,853.6L213.7,854.1L219,854.6L231.6,855.1" fill="none" stroke="#141414" stroke-width="1.85" stroke-dasharray="1.3 1.7"/><path d="M38.5,855.6L56.4,855.5L65.5,855.3L69.2,855.1L72.3,854.9L74.9,854.5L77.4,854.0L79.8,853.3L81.9,852.5L83.9,851.5L85.8,850.3L87.5,848.9L89.2,847.2L90.9,845.1L92.3,843.0L93.5,841.0L94.7,838.6L95.9,836.0L97.2,833.1L98.4,829.8L99.6,826.1L101.7,818.5L104.2,808.6L106.8,795.9L109.2,783.1L115.3,749.3L116.9,740.8L118.4,734.2L120.1,727.7L121.1,724.7L121.8,722.8L122.7,720.8L123.5,719.8L123.9,719.2L124.4,718.9L125.2,718.7L125.9,718.8L126.6,719.4L127.3,720.3L128.1,721.6L129.5,725.1L131.2,730.6L132.4,735.3L133.8,741.5L140.1,770.7L143,783.4L146.4,796.5L148.1,802.4L149.8,807.7L151.2,812.0L152.9,816.5L154.6,820.6L156.3,824.3L158,827.6L159.9,831.0L161.8,834.0L163.8,836.7L165.9,839.3L168.4,841.8L171,844.1L173.7,846.1L176.6,847.8L179.7,849.3L182.8,850.6L186.5,851.7L190.1,852.6L194.2,853.4L198.5,853.9L203.6,854.5L209.2,854.8L215.4,855.1L231.6,855.4" fill="none" stroke="#1e1eb8" stroke-width="1.85" stroke-dasharray="1.3 1.7"/></g><text x="34.8" y="859.00" text-anchor="end" font-family="Liberation Sans, sans-serif" font-weight="bold" font-size="9.2" fill="#111">0</text><text x="34.8" y="829.84" text-anchor="end" font-family="Liberation Sans, sans-serif" font-weight="bold" font-size="9.2" fill="#111">0.05</text><text x="34.8" y="800.68" text-anchor="end" font-family="Liberation Sans, sans-serif" font-weight="bold" font-size="9.2" fill="#111">0.1</text><text x="34.8" y="771.52" text-anchor="end" font-family="Liberation Sans, sans-serif" font-weight="bold" font-size="9.2" fill="#111">0.15</text><text x="34.8" y="742.36" text-anchor="end" font-family="Liberation Sans, sans-serif" font-weight="bold" font-size="9.2" fill="#111">0.2</text><text x="34.8" y="713.20" text-anchor="end" font-family="Liberation Sans, sans-serif" font-weight="bold" font-size="9.2" fill="#111">0.25</text><rect x="262.80" y="709.80" width="192.60" height="145.90" fill="none" stroke="#1a1a1a" stroke-width="1.35"/><path d="M310.95,855.70v-2.60M310.95,709.80v2.60M359.10,855.70v-2.60M359.10,709.80v2.60M407.25,855.70v-2.60M407.25,709.80v2.60M262.80,826.52h2.60M455.40,826.52h-2.60M262.80,797.34h2.60M455.40,797.34h-2.60M262.80,768.16h2.60M455.40,768.16h-2.60M262.80,738.98h2.60M455.40,738.98h-2.60" stroke="#1a1a1a" stroke-width="1.35" fill="none"/><g clip-path="url(#c52)"><path d="M262.8,855.7L283,855.6L294.8,855.4L303.7,854.9L307.3,854.6L310.5,854.1L313.6,853.5L316.5,852.8L319.1,852.0L321.8,850.9L324.2,849.6L326.4,848.2L328.5,846.6L330.5,844.9L332.1,843.1L333.8,841.1L335.5,838.8L337,836.7L339.8,831.6L342.7,825.6L345.9,817.9L349.2,808.2L352.4,798.2L360.1,772.2L362,766.2L363.9,760.9L366.1,755.9L367.3,753.6L368.2,752.1L369.5,750.7L370.4,749.9L371.4,749.4L372.3,749.2L373.1,749.3L374,749.7L375,750.3L376,751.2L376.9,752.3L377.9,753.7L378.8,755.3L380,757.6L382,761.8L383.9,766.6L386.3,773.1L394.5,796.0L397.4,803.5L400.3,810.3L403.4,817.0L406.8,823.3L410.1,828.7L413.5,833.3L415.4,835.6L417.6,837.9L419.5,839.8L421.7,841.7L423.9,843.3L426,844.8L428.4,846.2L430.8,847.5L433.3,848.6L435.9,849.6L438.8,850.6L441.7,851.4L444.8,852.2L448.2,852.8L455.4,853.9" fill="none" stroke="#141414" stroke-width="1.80" stroke-linejoin="round"/><path d="M262.8,855.7L284.9,855.6L297.9,855.4L307.6,855.0L311.4,854.7L315,854.2L318.7,853.7L321.8,853.0L324.7,852.2L327.3,851.3L330,850.1L332.4,848.8L334.5,847.4L336.7,845.8L338.6,844.1L340.3,842.4L342,840.5L343.7,838.4L345.4,836.0L347.1,833.4L350.2,827.7L351.9,824.3L353.6,820.5L357.2,811.6L360.5,802.3L368.2,779.8L370.2,774.7L372.1,770.0L373.3,767.4L374.5,765.2L375.7,763.2L376.7,761.9L377.9,760.7L378.8,760.0L379.8,759.5L380.8,759.3L381.7,759.4L382.7,759.8L383.7,760.3L384.6,761.1L385.6,762.2L386.5,763.4L388.7,766.8L390.6,770.5L392.6,774.6L402.4,797.8L405.3,804.1L408,809.5L411.1,815.4L414.2,820.7L417.4,825.3L420.5,829.4L424.1,833.6L427.7,837.1L429.6,838.7L431.8,840.4L435.9,843.2L440.2,845.6L444.8,847.7L449.9,849.5L455.4,851.0" fill="none" stroke="#1e1eb8" stroke-width="1.80" stroke-linejoin="round"/><path d="M262.8,855.7L279.9,855.6L290.2,855.3L294.3,855.1L297.7,854.7L300.8,854.3L303.7,853.8L306.4,853.1L309,852.2L311.4,851.1L313.6,849.9L315.8,848.3L317.7,846.7L319.6,844.7L321.3,842.6L322.7,840.5L324.2,838.2L325.6,835.6L326.8,833.1L328.3,829.9L329.5,826.9L332.1,819.3L334.8,810.4L337.7,799.3L340.6,786.8L347.1,757.2L348.7,750.2L350.4,743.9L352.4,738.0L353.3,735.6L354.3,733.6L355.2,732.2L356,731.3L356.9,730.7L357.7,730.6L358.4,730.7L359.1,731.2L359.8,731.9L360.8,733.3L361.5,734.7L362.5,736.9L364.2,741.7L365.6,746.5L367,751.7L373.3,776.4L376.4,788.1L379.8,799.4L381.5,804.5L383.2,809.2L386.3,817.0L388,820.7L389.7,824.1L391.4,827.2L393,830.0L394.7,832.5L396.7,835.1L398.8,837.7L401.2,840.2L403.6,842.4L406.3,844.5L408.9,846.2L411.8,847.8L414.7,849.2L417.8,850.4L421.2,851.4L424.8,852.3L428.7,853.1L433,853.7L437.6,854.2L442.9,854.7L455.4,855.2" fill="none" stroke="#141414" stroke-width="1.85" stroke-dasharray="1.3 1.7"/><path d="M262.8,855.7L280.6,855.6L289.8,855.4L293.4,855.2L296.5,855.0L299.2,854.6L301.6,854.1L304,853.4L306.1,852.6L308.1,851.6L310,850.4L311.7,849.0L313.4,847.3L315,845.2L316.5,843.1L317.7,841.0L318.9,838.7L320.1,836.1L321.3,833.2L322.5,829.9L323.7,826.2L325.9,818.6L328.3,808.7L330.9,796.0L333.3,783.2L339.4,749.4L341,740.8L342.5,734.2L344.2,727.7L345.1,724.7L345.9,722.8L346.8,720.8L347.5,719.8L348,719.2L348.5,718.9L349.2,718.7L350,718.8L350.7,719.4L351.4,720.3L352.1,721.6L353.6,725.1L355.2,730.6L356.5,735.3L357.9,741.5L364.2,770.7L367,783.4L370.4,796.6L372.1,802.4L373.8,807.8L375.2,812.0L376.9,816.5L378.6,820.6L380.3,824.3L382,827.7L383.9,831.1L385.8,834.1L387.7,836.8L389.9,839.4L392.3,841.9L395,844.2L397.6,846.1L400.5,847.9L403.6,849.4L406.8,850.7L410.4,851.8L414,852.7L418.1,853.5L422.4,854.0L427.5,854.5L433,854.9L439.3,855.2L455.4,855.5" fill="none" stroke="#1e1eb8" stroke-width="1.85" stroke-dasharray="1.3 1.7"/></g><rect x="486.20" y="710.10" width="193.60" height="146.10" fill="none" stroke="#1a1a1a" stroke-width="1.35"/><path d="M534.60,856.20v-2.60M534.60,710.10v2.60M583.00,856.20v-2.60M583.00,710.10v2.60M631.40,856.20v-2.60M631.40,710.10v2.60M486.20,826.98h2.60M679.80,826.98h-2.60M486.20,797.76h2.60M679.80,797.76h-2.60M486.20,768.54h2.60M679.80,768.54h-2.60M486.20,739.32h2.60M679.80,739.32h-2.60" stroke="#1a1a1a" stroke-width="1.35" fill="none"/><g clip-path="url(#c53)"><path d="M486.2,856.2L506.5,856.1L518.4,855.9L527.3,855.4L531,855.1L534.1,854.6L537.3,854.0L540.2,853.3L542.8,852.5L545.5,851.4L547.9,850.1L550.1,848.7L552.3,847.1L554.2,845.3L555.9,843.6L557.6,841.6L559.3,839.3L560.7,837.1L563.6,832.1L566.5,826.0L569.7,818.3L573.1,808.6L576.2,798.6L584,772.6L585.9,766.6L587.8,761.3L590,756.2L591.2,754.0L592.2,752.5L593.4,751.0L594.4,750.2L595.3,749.7L596.3,749.6L597,749.7L598,750.0L599,750.6L599.9,751.5L600.9,752.7L601.9,754.0L602.8,755.7L604.1,757.9L606,762.2L607.9,767.0L610.3,773.5L618.6,796.4L621.5,803.9L624.4,810.8L627.5,817.4L630.9,823.7L634.3,829.1L637.7,833.8L639.6,836.1L641.8,838.4L643.7,840.3L645.9,842.1L648.1,843.8L650.3,845.3L652.7,846.7L655.1,848.0L657.5,849.1L660.2,850.1L663.1,851.1L666,851.9L669.2,852.7L672.5,853.3L679.8,854.4" fill="none" stroke="#141414" stroke-width="1.80" stroke-linejoin="round"/><path d="M486.2,856.2L508.5,856.1L521.5,855.9L531.2,855.5L535.1,855.2L538.7,854.7L542.3,854.2L545.5,853.5L548.4,852.7L551.1,851.8L553.7,850.6L556.1,849.3L558.3,847.9L560.5,846.3L562.4,844.6L564.1,842.9L565.8,841.0L567.5,838.9L569.2,836.5L570.9,833.8L574,828.2L575.7,824.7L577.4,821.0L581.1,812.0L584.5,802.7L592.2,780.2L594.1,775.0L596.1,770.4L597.3,767.8L598.5,765.5L599.7,763.6L600.7,762.3L601.9,761.0L602.8,760.3L603.8,759.9L604.8,759.7L605.7,759.8L606.7,760.1L607.7,760.7L608.7,761.5L609.6,762.5L610.6,763.8L612.8,767.2L614.7,770.9L616.6,775.0L626.6,798.2L629.5,804.5L632.1,810.0L635.3,815.8L638.4,821.1L641.6,825.8L644.7,829.9L648.3,834.0L652,837.6L653.9,839.2L656.1,840.9L660.2,843.7L664.6,846.1L669.2,848.1L674.2,849.9L679.8,851.5" fill="none" stroke="#1e1eb8" stroke-width="1.80" stroke-linejoin="round"/><path d="M486.2,856.2L503.4,856.1L513.8,855.8L517.9,855.6L521.3,855.2L524.4,854.8L527.3,854.3L530,853.6L532.7,852.7L535.1,851.6L537.3,850.4L539.4,848.8L541.4,847.1L543.3,845.1L545,843.1L546.5,841.0L547.9,838.7L549.4,836.0L550.6,833.6L552,830.3L553.2,827.3L555.9,819.8L558.6,810.9L561.5,799.7L564.4,787.2L570.9,757.6L572.6,750.6L574.3,744.3L576.2,738.3L577.2,735.9L578.2,734.0L579.1,732.5L579.9,731.7L580.8,731.0L581.5,730.9L582.3,731.0L583,731.5L583.7,732.2L584.7,733.6L585.4,735.0L586.4,737.2L588.1,742.0L589.5,746.8L591,752.1L597.3,776.8L600.4,788.5L603.8,799.8L605.5,804.9L607.2,809.6L610.3,817.4L612,821.1L613.7,824.5L615.4,827.6L617.1,830.4L618.8,833.0L620.8,835.6L622.9,838.2L625.3,840.7L627.8,842.9L630.4,845.0L633.1,846.7L636,848.3L638.9,849.6L642,850.8L645.4,851.9L649.1,852.8L652.9,853.5L657.3,854.2L661.9,854.7L667.2,855.2L679.8,855.7" fill="none" stroke="#141414" stroke-width="1.85" stroke-dasharray="1.3 1.7"/><path d="M486.2,856.2L504.1,856.1L513.3,855.9L516.9,855.7L520.1,855.5L522.7,855.1L525.2,854.6L527.6,853.9L529.8,853.1L531.7,852.1L533.6,850.9L535.3,849.5L537,847.8L538.7,845.7L540.2,843.6L541.4,841.5L542.6,839.2L543.8,836.6L545,833.6L546.2,830.3L547.4,826.6L549.6,819.1L552,809.1L554.7,796.4L557.1,783.6L563.2,749.7L564.8,741.1L566.3,734.5L568,728.0L569,725.0L569.7,723.1L570.7,721.2L571.4,720.1L571.9,719.6L572.4,719.2L573.1,719.0L573.8,719.1L574.5,719.7L575.3,720.6L576,721.9L577.4,725.4L579.1,731.0L580.3,735.7L581.8,741.9L588.1,771.1L591,783.8L594.4,797.0L596.1,802.8L597.8,808.2L599.2,812.5L600.9,817.0L602.6,821.1L604.3,824.8L606,828.1L607.9,831.6L609.9,834.6L611.8,837.2L614,839.9L616.4,842.4L619.1,844.7L621.7,846.6L624.6,848.4L627.8,849.9L630.9,851.2L634.5,852.3L638.2,853.2L642.3,853.9L646.6,854.5L651.7,855.0L657.3,855.4L663.6,855.7L679.8,856.0" fill="none" stroke="#1e1eb8" stroke-width="1.85" stroke-dasharray="1.3 1.7"/></g><text transform="translate(11.0,95.35) rotate(-90)" text-anchor="middle" font-family="Liberation Serif, serif" font-weight="bold" font-size="15.45" fill="#000">Infected human</text><text transform="translate(11.0,271.30) rotate(-90)" text-anchor="middle" font-family="Liberation Serif, serif" font-weight="bold" font-size="15.45" fill="#000">Vaccinated human</text><text transform="translate(11.0,442.00) rotate(-90)" text-anchor="middle" font-family="Liberation Serif, serif" font-weight="bold" font-size="15.45" fill="#000">Treated human</text><text transform="translate(11.0,616.75) rotate(-90)" text-anchor="middle" font-family="Liberation Serif, serif" font-weight="bold" font-size="15.45" fill="#000">Recovered human</text><text transform="translate(11.0,785.30) rotate(-90)" text-anchor="middle" font-family="Liberation Serif, serif" font-weight="bold" font-size="15.45" fill="#000">Infected animal</text><text transform="translate(108.20,12.10) scale(1.07,1)" font-family="Liberation Serif, serif" font-weight="bold" font-style="italic" font-size="15">η</text><rect x="122.80" y="5.20" width="9.8" height="1.45" fill="#111"/><rect x="122.80" y="8.50" width="9.8" height="1.45" fill="#111"/><text transform="translate(137.90,12.10) scale(1.27,1)" font-family="Liberation Serif, serif" font-weight="bold" font-size="14">0</text><text transform="translate(146.10,12.10) scale(1.15,1)" font-family="Liberation Serif, serif" font-weight="bold" font-size="14">.</text><text transform="translate(152.20,12.10) scale(1.35,1)" font-family="Liberation Serif, serif" font-weight="bold" font-size="14">1</text><text transform="translate(334.20,13.60) scale(1.07,1)" font-family="Liberation Serif, serif" font-weight="bold" font-style="italic" font-size="15">η</text><rect x="348.80" y="6.70" width="9.8" height="1.45" fill="#111"/><rect x="348.80" y="10.00" width="9.8" height="1.45" fill="#111"/><text transform="translate(363.90,13.60) scale(1.27,1)" font-family="Liberation Serif, serif" font-weight="bold" font-size="14">0</text><text transform="translate(372.10,13.60) scale(1.15,1)" font-family="Liberation Serif, serif" font-weight="bold" font-size="14">.</text><text transform="translate(379.40,13.60) scale(1.15,1)" font-family="Liberation Serif, serif" font-weight="bold" font-size="14">5</text><text transform="translate(555.10,13.60) scale(1.07,1)" font-family="Liberation Serif, serif" font-weight="bold" font-style="italic" font-size="15">η</text><rect x="569.70" y="6.70" width="9.8" height="1.45" fill="#111"/><rect x="569.70" y="10.00" width="9.8" height="1.45" fill="#111"/><text transform="translate(584.80,13.60) scale(1.27,1)" font-family="Liberation Serif, serif" font-weight="bold" font-size="14">0</text><text transform="translate(593.00,13.60) scale(1.15,1)" font-family="Liberation Serif, serif" font-weight="bold" font-size="14">.</text><text transform="translate(600.30,13.60) scale(1.15,1)" font-family="Liberation Serif, serif" font-weight="bold" font-size="14">9</text><path d="M383.2,30.70H401.6" stroke="#d42424" stroke-width="1.80"/><text x="402.7" y="33.70" font-family="Liberation Sans, sans-serif" font-weight="bold" font-size="8.5" fill="#1a1a1a">BA(h)-BA(r)</text><path d="M383.2,41.74H401.6" stroke="#141414" stroke-width="1.80"/><text x="402.7" y="44.74" font-family="Liberation Sans, sans-serif" font-weight="bold" font-size="8.5" fill="#1a1a1a">ER(h)-BA(r)</text><path d="M383.2,52.78H401.6" stroke="#22d022" stroke-width="1.80"/><text x="402.7" y="55.78" font-family="Liberation Sans, sans-serif" font-weight="bold" font-size="8.5" fill="#1a1a1a">BA(h)-ER(r)</text><path d="M383.2,63.82H401.6" stroke="#1e1eb8" stroke-width="1.80"/><text x="402.7" y="66.82" font-family="Liberation Sans, sans-serif" font-weight="bold" font-size="8.5" fill="#1a1a1a">ER(h)-ER(r)</text><path d="M383.2,74.86H401.6" stroke="#d42424" stroke-width="1.85" stroke-dasharray="1.3 1.7"/><text x="402.7" y="77.86" font-family="Liberation Sans, sans-serif" font-weight="bold" font-size="8.5" fill="#1a1a1a">BA(h)-BA(r)</text><path d="M383.2,85.90H401.6" stroke="#141414" stroke-width="1.85" stroke-dasharray="1.3 1.7"/><text x="402.7" y="88.90" font-family="Liberation Sans, sans-serif" font-weight="bold" font-size="8.5" fill="#1a1a1a">ER(h)-BA(r)</text><path d="M383.2,96.94H401.6" stroke="#22d022" stroke-width="1.85" stroke-dasharray="1.3 1.7"/><text x="402.7" y="99.94" font-family="Liberation Sans, sans-serif" font-weight="bold" font-size="8.5" fill="#1a1a1a">BA(h)-ER(r)</text><path d="M383.2,107.98H401.6" stroke="#1e1eb8" stroke-width="1.85" stroke-dasharray="1.3 1.7"/><text x="402.7" y="110.98" font-family="Liberation Sans, sans-serif" font-weight="bold" font-size="8.5" fill="#1a1a1a">ER(h)-ER(r)</text><path d="M584.20,38.60L575.60,42.30L584.20,45.90" fill="none" stroke="#111" stroke-width="1.2"/><text transform="translate(590.00,46.20) scale(1.05,1)" font-family="Liberation Serif, serif" font-weight="bold" font-style="italic" font-size="15">k</text><path d="M605.20,38.60L613.80,42.30L605.20,45.90" fill="none" stroke="#111" stroke-width="1.2"/><rect x="614.20" y="39.90" width="11" height="1.4" fill="#111"/><rect x="614.20" y="43.30" width="11" height="1.4" fill="#111"/><text transform="translate(631.40,46.20) scale(1.13,1)" font-family="Liberation Serif, serif" font-weight="bold" font-size="15.5">16</text><path d="M610.20,77.20L601.60,80.90L610.20,84.50" fill="none" stroke="#111" stroke-width="1.2"/><text transform="translate(616.00,84.80) scale(1.05,1)" font-family="Liberation Serif, serif" font-weight="bold" font-style="italic" font-size="15">k</text><path d="M631.20,77.20L639.80,80.90L631.20,84.50" fill="none" stroke="#111" stroke-width="1.2"/><rect x="640.20" y="78.50" width="11" height="1.4" fill="#111"/><rect x="640.20" y="81.90" width="11" height="1.4" fill="#111"/><text transform="translate(657.40,84.80) scale(1.13,1)" font-family="Liberation Serif, serif" font-weight="bold" font-size="15.5">8</text><path d="M560.80,81.60L583.20,53.80M575.10,57.30L583.20,53.80L581.60,62.00" fill="none" stroke="#000" stroke-width="2" stroke-linejoin="miter" stroke-miterlimit="8"/><path d="M597.80,119.90L617.30,91.90M609.50,96.40L617.30,91.90L615.90,100.90" fill="none" stroke="#000" stroke-width="2" stroke-linejoin="miter" stroke-miterlimit="8"/><text x="224.90" y="160.20" text-anchor="end" font-family="Liberation Serif, serif" font-weight="bold" font-size="15.6" fill="#000">a(i)</text><text x="449.80" y="158.80" text-anchor="end" font-family="Liberation Serif, serif" font-weight="bold" font-size="15.6" fill="#000">a(ii)</text><text x="674.50" y="147.80" text-anchor="end" font-family="Liberation Serif, serif" font-weight="bold" font-size="15.6" fill="#000">a(iii)</text><text x="223.90" y="331.70" text-anchor="end" font-family="Liberation Serif, serif" font-weight="bold" font-size="15.6" fill="#000">b(i)</text><text x="451.20" y="321.00" text-anchor="end" font-family="Liberation Serif, serif" font-weight="bold" font-size="15.6" fill="#000">b(ii)</text><text x="675.70" y="333.10" text-anchor="end" font-family="Liberation Serif, serif" font-weight="bold" font-size="15.6" fill="#000">b(iii)</text><text x="226.50" y="501.30" text-anchor="end" font-family="Liberation Serif, serif" font-weight="bold" font-size="15.6" fill="#000">c(i)</text><text x="450.80" y="499.80" text-anchor="end" font-family="Liberation Serif, serif" font-weight="bold" font-size="15.6" fill="#000">c(ii)</text><text x="672.90" y="491.10" text-anchor="end" font-family="Liberation Serif, serif" font-weight="bold" font-size="15.6" fill="#000">c(iii)</text><text x="221.90" y="677.30" text-anchor="end" font-family="Liberation Serif, serif" font-weight="bold" font-size="15.6" fill="#000">d(i)</text><text x="451.90" y="676.20" text-anchor="end" font-family="Liberation Serif, serif" font-weight="bold" font-size="15.6" fill="#000">d(ii)</text><text x="674.50" y="677.70" text-anchor="end" font-family="Liberation Serif, serif" font-weight="bold" font-size="15.6" fill="#000">d(iii)</text><text x="219.60" y="820.40" text-anchor="end" font-family="Liberation Serif, serif" font-weight="bold" font-size="15.6" fill="#000">e(i)</text><text x="448.70" y="819.30" text-anchor="end" font-family="Liberation Serif, serif" font-weight="bold" font-size="15.6" fill="#000">e(ii)</text><text x="672.50" y="818.50" text-anchor="end" font-family="Liberation Serif, serif" font-weight="bold" font-size="15.6" fill="#000">e(iii)</text><path d="M148.5,878.8H571.5" stroke="#000" stroke-width="3"/><path d="M148.50,872V879" stroke="#000" stroke-width="3"/><text x="148.50" y="900.2" text-anchor="middle" font-family="Liberation Sans, sans-serif" font-weight="bold" font-size="20" fill="#000">0</text><path d="M254.25,872V879" stroke="#000" stroke-width="3"/><text x="254.25" y="900.2" text-anchor="middle" font-family="Liberation Sans, sans-serif" font-weight="bold" font-size="20" fill="#000">50</text><path d="M360.00,872V879" stroke="#000" stroke-width="3"/><text x="360.00" y="900.2" text-anchor="middle" font-family="Liberation Sans, sans-serif" font-weight="bold" font-size="20" fill="#000">100</text><path d="M465.75,872V879" stroke="#000" stroke-width="3"/><text x="465.75" y="900.2" text-anchor="middle" font-family="Liberation Sans, sans-serif" font-weight="bold" font-size="20" fill="#000">150</text><path d="M571.50,872V879" stroke="#000" stroke-width="3"/><text x="571.50" y="900.2" text-anchor="middle" font-family="Liberation Sans, sans-serif" font-weight="bold" font-size="20" fill="#000">200</text><text x="358.6" y="919.5" text-anchor="middle" font-family="Liberation Serif, serif" font-weight="bold" font-size="15" fill="#000">Time (Days)</text></svg></body></html>
